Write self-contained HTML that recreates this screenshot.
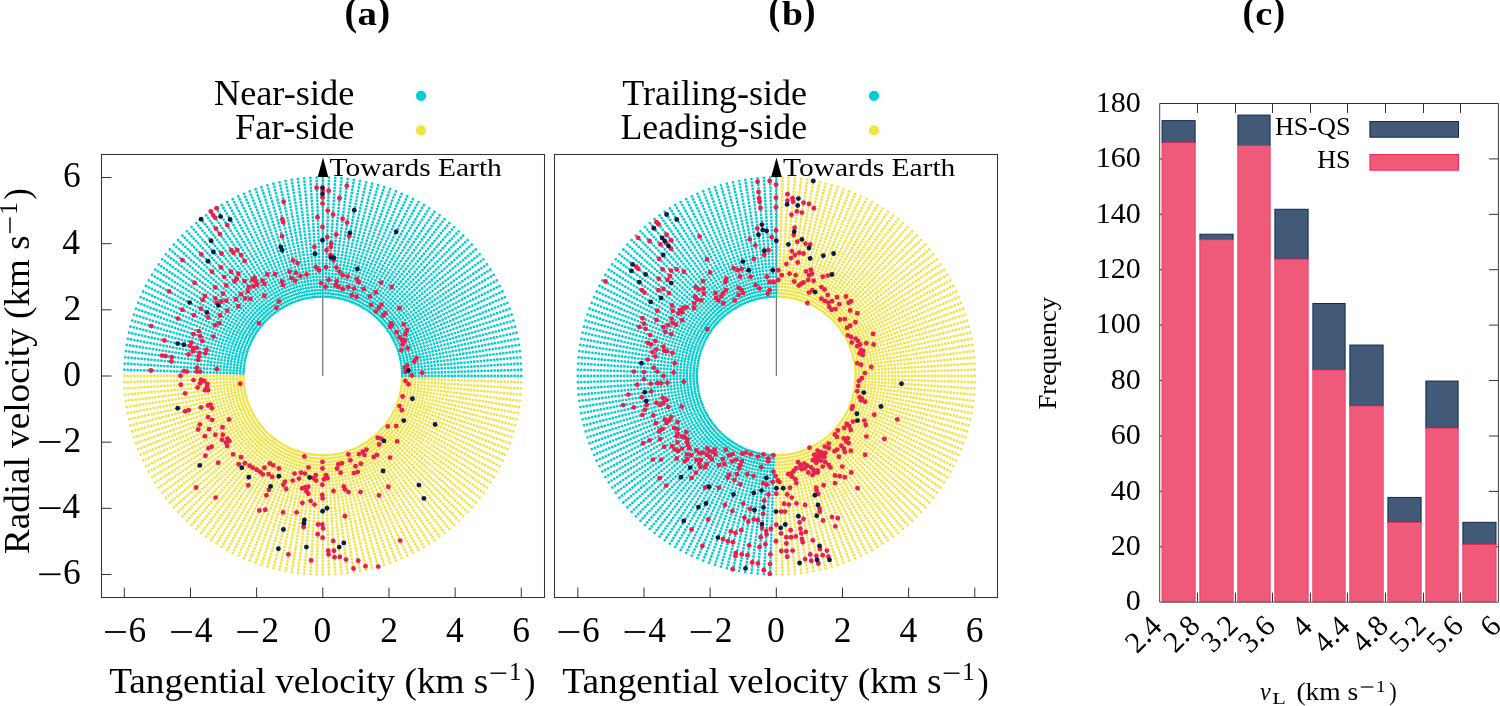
<!DOCTYPE html><html><head><meta charset="utf-8"><style>html,body{margin:0;padding:0;background:#fff;width:1500px;height:706px;overflow:hidden}svg{display:block;will-change:transform}</style></head><body>
<svg width="1500" height="706" viewBox="0 0 1500 706">
<text x="344.58" y="24.60" font-family="Liberation Serif" font-size="40.00" font-weight="bold" font-style="normal" fill="#000" textLength="12.68" lengthAdjust="spacingAndGlyphs">(</text>
<text x="357.53" y="24.96" font-family="Liberation Serif" font-size="33.75" font-weight="bold" font-style="normal" fill="#000" textLength="19.46" lengthAdjust="spacingAndGlyphs">a</text>
<text x="377.23" y="24.60" font-family="Liberation Serif" font-size="40.00" font-weight="bold" font-style="normal" fill="#000" textLength="12.94" lengthAdjust="spacingAndGlyphs">)</text>
<text x="768.58" y="24.40" font-family="Liberation Serif" font-size="40.00" font-weight="bold" font-style="normal" fill="#000" textLength="11.79" lengthAdjust="spacingAndGlyphs">(</text>
<text x="782.02" y="24.96" font-family="Liberation Serif" font-size="33.57" font-weight="bold" font-style="normal" fill="#000" textLength="20.94" lengthAdjust="spacingAndGlyphs">b</text>
<text x="803.29" y="24.40" font-family="Liberation Serif" font-size="40.00" font-weight="bold" font-style="normal" fill="#000" textLength="12.30" lengthAdjust="spacingAndGlyphs">)</text>
<text x="1242.42" y="24.60" font-family="Liberation Serif" font-size="40.00" font-weight="bold" font-style="normal" fill="#000" textLength="12.30" lengthAdjust="spacingAndGlyphs">(</text>
<text x="1255.15" y="24.97" font-family="Liberation Serif" font-size="32.71" font-weight="bold" font-style="normal" fill="#000" textLength="17.07" lengthAdjust="spacingAndGlyphs">c</text>
<text x="1273.10" y="24.60" font-family="Liberation Serif" font-size="40.00" font-weight="bold" font-style="normal" fill="#000" textLength="12.17" lengthAdjust="spacingAndGlyphs">)</text>
<text x="213.91" y="105.00" font-family="Liberation Serif" font-size="35.50" font-weight="normal" font-style="normal" fill="#000" textLength="140.42" lengthAdjust="spacingAndGlyphs">Near-side</text>
<text x="234.90" y="138.80" font-family="Liberation Serif" font-size="35.50" font-weight="normal" font-style="normal" fill="#000" textLength="119.45" lengthAdjust="spacingAndGlyphs">Far-side</text>
<text x="622.28" y="105.00" font-family="Liberation Serif" font-size="35.50" font-weight="normal" font-style="normal" fill="#000" textLength="184.80" lengthAdjust="spacingAndGlyphs">Trailing-side</text>
<text x="620.53" y="139.00" font-family="Liberation Serif" font-size="35.50" font-weight="normal" font-style="normal" fill="#000" textLength="186.56" lengthAdjust="spacingAndGlyphs">Leading-side</text>
<circle cx="421.0" cy="95.8" r="5.1" fill="#00CED1"/>
<circle cx="421.0" cy="130.4" r="5.1" fill="#F0E442"/>
<circle cx="874.0" cy="95.8" r="5.1" fill="#00CED1"/>
<circle cx="874.0" cy="130.4" r="5.1" fill="#F0E442"/>
<line x1="322.80" y1="376.0" x2="322.80" y2="176" stroke="#555" stroke-width="1"/>

<line x1="776.30" y1="376.0" x2="776.30" y2="176" stroke="#555" stroke-width="1"/>

<path d="M243.41 376.00L124.27 376.00M243.45 378.49L124.37 382.24M243.56 380.99L124.66 388.47M243.76 383.47L125.15 394.68M244.03 385.95L125.84 400.88M244.39 388.42L126.71 407.06M244.81 390.88L127.79 413.20M245.32 393.32L129.05 419.31M245.90 395.74L130.51 425.37M246.56 398.15L132.15 431.39M247.29 400.53L133.99 437.35M248.10 402.89L136.01 443.25M248.98 405.23L138.21 449.08M249.94 407.53L140.60 454.85M250.96 409.80L143.16 460.53M252.06 412.04L145.91 466.13M253.23 414.25L148.83 471.64M254.46 416.41L151.92 477.06M255.77 418.54L155.18 482.38M257.14 420.62L158.60 487.59M258.57 422.67L162.19 492.69M260.07 424.66L165.93 497.68M261.63 426.61L169.83 502.55M263.25 428.50L173.88 507.29M264.93 430.35L178.08 511.90M266.66 432.14L182.42 516.38M268.45 433.87L186.90 520.72M270.30 435.55L191.51 524.92M272.19 437.17L196.25 528.97M274.14 438.73L201.12 532.87M276.13 440.23L206.11 536.61M278.18 441.66L211.21 540.20M280.26 443.03L216.42 543.62M282.39 444.34L221.74 546.88M284.55 445.57L227.16 549.97M286.76 446.74L232.67 552.89M289.00 447.84L238.27 555.64M291.27 448.86L243.95 558.20M293.57 449.82L249.72 560.59M295.91 450.70L255.55 562.79M298.27 451.51L261.45 564.81M300.65 452.24L267.41 566.65M303.06 452.90L273.43 568.29M305.48 453.48L279.49 569.75M307.92 453.99L285.60 571.01M310.38 454.41L291.74 572.09M312.85 454.77L297.92 572.96M315.33 455.04L304.12 573.65M317.81 455.24L310.33 574.14M320.31 455.35L316.56 574.43M322.80 455.39L322.80 574.53M325.29 455.35L329.04 574.43M327.79 455.24L335.27 574.14M330.27 455.04L341.48 573.65M332.75 454.77L347.68 572.96M335.22 454.41L353.86 572.09M337.68 453.99L360.00 571.01M340.12 453.48L366.11 569.75M342.54 452.90L372.17 568.29M344.95 452.24L378.19 566.65M347.33 451.51L384.15 564.81M349.69 450.70L390.05 562.79M352.03 449.82L395.88 560.59M354.33 448.86L401.65 558.20M356.60 447.84L407.33 555.64M358.84 446.74L412.93 552.89M361.05 445.57L418.44 549.97M363.21 444.34L423.86 546.88M365.34 443.03L429.18 543.62M367.42 441.66L434.39 540.20M369.47 440.23L439.49 536.61M371.46 438.73L444.48 532.87M373.41 437.17L449.35 528.97M375.30 435.55L454.09 524.92M377.15 433.87L458.70 520.72M378.94 432.14L463.18 516.38M380.67 430.35L467.52 511.90M382.35 428.50L471.72 507.29M383.97 426.61L475.77 502.55M385.53 424.66L479.67 497.68M387.03 422.67L483.41 492.69M388.46 420.62L487.00 487.59M389.83 418.54L490.42 482.38M391.14 416.41L493.68 477.06M392.37 414.25L496.77 471.64M393.54 412.04L499.69 466.13M394.64 409.80L502.44 460.53M395.66 407.53L505.00 454.85M396.62 405.23L507.39 449.08M397.50 402.89L509.59 443.25M398.31 400.53L511.61 437.35M399.04 398.15L513.45 431.39M399.70 395.74L515.09 425.37M400.28 393.32L516.55 419.31M400.79 390.88L517.81 413.20M401.21 388.42L518.89 407.06M401.57 385.95L519.76 400.88M401.84 383.47L520.45 394.68M402.04 380.99L520.94 388.47M402.15 378.49L521.23 382.24" stroke="#F0E442" stroke-width="2.8" stroke-linecap="round" stroke-dasharray="0 3.3080" fill="none"/>
<path d="M402.19 376.00L521.33 376.00M402.15 373.51L521.23 369.76M402.04 371.01L520.94 363.53M401.84 368.53L520.45 357.32M401.57 366.05L519.76 351.12M401.21 363.58L518.89 344.94M400.79 361.12L517.81 338.80M400.28 358.68L516.55 332.69M399.70 356.26L515.09 326.63M399.04 353.85L513.45 320.61M398.31 351.47L511.61 314.65M397.50 349.11L509.59 308.75M396.62 346.77L507.39 302.92M395.66 344.47L505.00 297.15M394.64 342.20L502.44 291.47M393.54 339.96L499.69 285.87M392.37 337.75L496.77 280.36M391.14 335.59L493.68 274.94M389.83 333.46L490.42 269.62M388.46 331.38L487.00 264.41M387.03 329.33L483.41 259.31M385.53 327.34L479.67 254.32M383.97 325.39L475.77 249.45M382.35 323.50L471.72 244.71M380.67 321.65L467.52 240.10M378.94 319.86L463.18 235.62M377.15 318.13L458.70 231.28M375.30 316.45L454.09 227.08M373.41 314.83L449.35 223.03M371.46 313.27L444.48 219.13M369.47 311.77L439.49 215.39M367.42 310.34L434.39 211.80M365.34 308.97L429.18 208.38M363.21 307.66L423.86 205.12M361.05 306.43L418.44 202.03M358.84 305.26L412.93 199.11M356.60 304.16L407.33 196.36M354.33 303.14L401.65 193.80M352.03 302.18L395.88 191.41M349.69 301.30L390.05 189.21M347.33 300.49L384.15 187.19M344.95 299.76L378.19 185.35M342.54 299.10L372.17 183.71M340.12 298.52L366.11 182.25M337.68 298.01L360.00 180.99M335.22 297.59L353.86 179.91M332.75 297.23L347.68 179.04M330.27 296.96L341.48 178.35M327.79 296.76L335.27 177.86M325.29 296.65L329.04 177.57M322.80 296.61L322.80 177.47M320.31 296.65L316.56 177.57M317.81 296.76L310.33 177.86M315.33 296.96L304.12 178.35M312.85 297.23L297.92 179.04M310.38 297.59L291.74 179.91M307.92 298.01L285.60 180.99M305.48 298.52L279.49 182.25M303.06 299.10L273.43 183.71M300.65 299.76L267.41 185.35M298.27 300.49L261.45 187.19M295.91 301.30L255.55 189.21M293.57 302.18L249.72 191.41M291.27 303.14L243.95 193.80M289.00 304.16L238.27 196.36M286.76 305.26L232.67 199.11M284.55 306.43L227.16 202.03M282.39 307.66L221.74 205.12M280.26 308.97L216.42 208.38M278.18 310.34L211.21 211.80M276.13 311.77L206.11 215.39M274.14 313.27L201.12 219.13M272.19 314.83L196.25 223.03M270.30 316.45L191.51 227.08M268.45 318.13L186.90 231.28M266.66 319.86L182.42 235.62M264.93 321.65L178.08 240.10M263.25 323.50L173.88 244.71M261.63 325.39L169.83 249.45M260.07 327.34L165.93 254.32M258.57 329.33L162.19 259.31M257.14 331.38L158.60 264.41M255.77 333.46L155.18 269.62M254.46 335.59L151.92 274.94M253.23 337.75L148.83 280.36M252.06 339.96L145.91 285.87M250.96 342.20L143.16 291.47M249.94 344.47L140.60 297.15M248.98 346.77L138.21 302.92M248.10 349.11L136.01 308.75M247.29 351.47L133.99 314.65M246.56 353.85L132.15 320.61M245.90 356.26L130.51 326.63M245.32 358.68L129.05 332.69M244.81 361.12L127.79 338.80M244.39 363.58L126.71 344.94M244.03 366.05L125.84 351.12M243.76 368.53L125.15 357.32M243.56 371.01L124.66 363.53M243.45 373.51L124.37 369.76" stroke="#00CED1" stroke-width="2.8" stroke-linecap="round" stroke-dasharray="0 3.3080" fill="none"/>

<path d="M855.69 376.00L974.83 376.00M855.65 373.51L974.73 369.76M855.54 371.01L974.44 363.53M855.34 368.53L973.95 357.32M855.07 366.05L973.26 351.12M854.71 363.58L972.39 344.94M854.29 361.12L971.31 338.80M853.78 358.68L970.05 332.69M853.20 356.26L968.59 326.63M852.54 353.85L966.95 320.61M851.81 351.47L965.11 314.65M851.00 349.11L963.09 308.75M850.12 346.77L960.89 302.92M849.16 344.47L958.50 297.15M848.14 342.20L955.94 291.47M847.04 339.96L953.19 285.87M845.87 337.75L950.27 280.36M844.64 335.59L947.18 274.94M843.33 333.46L943.92 269.62M841.96 331.38L940.50 264.41M840.53 329.33L936.91 259.31M839.03 327.34L933.17 254.32M837.47 325.39L929.27 249.45M835.85 323.50L925.22 244.71M834.17 321.65L921.02 240.10M832.44 319.86L916.68 235.62M830.65 318.13L912.20 231.28M828.80 316.45L907.59 227.08M826.91 314.83L902.85 223.03M824.96 313.27L897.98 219.13M822.97 311.77L892.99 215.39M820.92 310.34L887.89 211.80M818.84 308.97L882.68 208.38M816.71 307.66L877.36 205.12M814.55 306.43L871.94 202.03M812.34 305.26L866.43 199.11M810.10 304.16L860.83 196.36M807.83 303.14L855.15 193.80M805.53 302.18L849.38 191.41M803.19 301.30L843.55 189.21M800.83 300.49L837.65 187.19M798.45 299.76L831.69 185.35M796.04 299.10L825.67 183.71M793.62 298.52L819.61 182.25M791.18 298.01L813.50 180.99M788.72 297.59L807.36 179.91M786.25 297.23L801.18 179.04M783.77 296.96L794.98 178.35M781.29 296.76L788.77 177.86M778.79 296.65L782.54 177.57M776.30 455.39L776.30 574.53M778.79 455.35L782.54 574.43M781.29 455.24L788.77 574.14M783.77 455.04L794.98 573.65M786.25 454.77L801.18 572.96M788.72 454.41L807.36 572.09M791.18 453.99L813.50 571.01M793.62 453.48L819.61 569.75M796.04 452.90L825.67 568.29M798.45 452.24L831.69 566.65M800.83 451.51L837.65 564.81M803.19 450.70L843.55 562.79M805.53 449.82L849.38 560.59M807.83 448.86L855.15 558.20M810.10 447.84L860.83 555.64M812.34 446.74L866.43 552.89M814.55 445.57L871.94 549.97M816.71 444.34L877.36 546.88M818.84 443.03L882.68 543.62M820.92 441.66L887.89 540.20M822.97 440.23L892.99 536.61M824.96 438.73L897.98 532.87M826.91 437.17L902.85 528.97M828.80 435.55L907.59 524.92M830.65 433.87L912.20 520.72M832.44 432.14L916.68 516.38M834.17 430.35L921.02 511.90M835.85 428.50L925.22 507.29M837.47 426.61L929.27 502.55M839.03 424.66L933.17 497.68M840.53 422.67L936.91 492.69M841.96 420.62L940.50 487.59M843.33 418.54L943.92 482.38M844.64 416.41L947.18 477.06M845.87 414.25L950.27 471.64M847.04 412.04L953.19 466.13M848.14 409.80L955.94 460.53M849.16 407.53L958.50 454.85M850.12 405.23L960.89 449.08M851.00 402.89L963.09 443.25M851.81 400.53L965.11 437.35M852.54 398.15L966.95 431.39M853.20 395.74L968.59 425.37M853.78 393.32L970.05 419.31M854.29 390.88L971.31 413.20M854.71 388.42L972.39 407.06M855.07 385.95L973.26 400.88M855.34 383.47L973.95 394.68M855.54 380.99L974.44 388.47M855.65 378.49L974.73 382.24" stroke="#F0E442" stroke-width="2.8" stroke-linecap="round" stroke-dasharray="0 3.3080" fill="none"/>
<path d="M776.30 296.61L776.30 177.47M773.81 296.65L770.06 177.57M771.31 296.76L763.83 177.86M768.83 296.96L757.62 178.35M766.35 297.23L751.42 179.04M763.88 297.59L745.24 179.91M761.42 298.01L739.10 180.99M758.98 298.52L732.99 182.25M756.56 299.10L726.93 183.71M754.15 299.76L720.91 185.35M751.77 300.49L714.95 187.19M749.41 301.30L709.05 189.21M747.07 302.18L703.22 191.41M744.77 303.14L697.45 193.80M742.50 304.16L691.77 196.36M740.26 305.26L686.17 199.11M738.05 306.43L680.66 202.03M735.89 307.66L675.24 205.12M733.76 308.97L669.92 208.38M731.68 310.34L664.71 211.80M729.63 311.77L659.61 215.39M727.64 313.27L654.62 219.13M725.69 314.83L649.75 223.03M723.80 316.45L645.01 227.08M721.95 318.13L640.40 231.28M720.16 319.86L635.92 235.62M718.43 321.65L631.58 240.10M716.75 323.50L627.38 244.71M715.13 325.39L623.33 249.45M713.57 327.34L619.43 254.32M712.07 329.33L615.69 259.31M710.64 331.38L612.10 264.41M709.27 333.46L608.68 269.62M707.96 335.59L605.42 274.94M706.73 337.75L602.33 280.36M705.56 339.96L599.41 285.87M704.46 342.20L596.66 291.47M703.44 344.47L594.10 297.15M702.48 346.77L591.71 302.92M701.60 349.11L589.51 308.75M700.79 351.47L587.49 314.65M700.06 353.85L585.65 320.61M699.40 356.26L584.01 326.63M698.82 358.68L582.55 332.69M698.31 361.12L581.29 338.80M697.89 363.58L580.21 344.94M697.53 366.05L579.34 351.12M697.26 368.53L578.65 357.32M697.06 371.01L578.16 363.53M696.95 373.51L577.87 369.76M696.91 376.00L577.77 376.00M696.95 378.49L577.87 382.24M697.06 380.99L578.16 388.47M697.26 383.47L578.65 394.68M697.53 385.95L579.34 400.88M697.89 388.42L580.21 407.06M698.31 390.88L581.29 413.20M698.82 393.32L582.55 419.31M699.40 395.74L584.01 425.37M700.06 398.15L585.65 431.39M700.79 400.53L587.49 437.35M701.60 402.89L589.51 443.25M702.48 405.23L591.71 449.08M703.44 407.53L594.10 454.85M704.46 409.80L596.66 460.53M705.56 412.04L599.41 466.13M706.73 414.25L602.33 471.64M707.96 416.41L605.42 477.06M709.27 418.54L608.68 482.38M710.64 420.62L612.10 487.59M712.07 422.67L615.69 492.69M713.57 424.66L619.43 497.68M715.13 426.61L623.33 502.55M716.75 428.50L627.38 507.29M718.43 430.35L631.58 511.90M720.16 432.14L635.92 516.38M721.95 433.87L640.40 520.72M723.80 435.55L645.01 524.92M725.69 437.17L649.75 528.97M727.64 438.73L654.62 532.87M729.63 440.23L659.61 536.61M731.68 441.66L664.71 540.20M733.76 443.03L669.92 543.62M735.89 444.34L675.24 546.88M738.05 445.57L680.66 549.97M740.26 446.74L686.17 552.89M742.50 447.84L691.77 555.64M744.77 448.86L697.45 558.20M747.07 449.82L703.22 560.59M749.41 450.70L709.05 562.79M751.77 451.51L714.95 564.81M754.15 452.24L720.91 566.65M756.56 452.90L726.93 568.29M758.98 453.48L732.99 569.75M761.42 453.99L739.10 571.01M763.88 454.41L745.24 572.09M766.35 454.77L751.42 572.96M768.83 455.04L757.62 573.65M771.31 455.24L763.83 574.14M773.81 455.35L770.06 574.43" stroke="#00CED1" stroke-width="2.8" stroke-linecap="round" stroke-dasharray="0 3.3080" fill="none"/>

<rect x="101.5" y="154.5" width="443.0" height="443.0" fill="none" stroke="#333" stroke-width="1.05"/>
<line x1="124.32" y1="597.5" x2="124.32" y2="587.5" stroke="#333" stroke-width="1"/>
<rect x="105.02" y="631.10" width="20.80" height="1.80" fill="#000"/><text x="128.52" y="641.60" font-family="Liberation Serif" font-size="35.50" fill="#000">6</text><line x1="101.5" y1="574.48" x2="111.5" y2="574.48" stroke="#333" stroke-width="1"/>
<rect x="39.20" y="573.38" width="21.30" height="1.80" fill="#000"/><text x="62.91" y="584.38" font-family="Liberation Serif" font-size="35.50" fill="#000">6</text><line x1="190.48" y1="597.5" x2="190.48" y2="587.5" stroke="#333" stroke-width="1"/>
<rect x="171.18" y="631.10" width="20.80" height="1.80" fill="#000"/><text x="194.68" y="641.60" font-family="Liberation Serif" font-size="35.50" fill="#000">4</text><line x1="101.5" y1="508.32" x2="111.5" y2="508.32" stroke="#333" stroke-width="1"/>
<rect x="39.20" y="507.22" width="21.30" height="1.80" fill="#000"/><text x="62.20" y="518.22" font-family="Liberation Serif" font-size="35.50" fill="#000">4</text><line x1="256.64" y1="597.5" x2="256.64" y2="587.5" stroke="#333" stroke-width="1"/>
<rect x="237.34" y="631.10" width="20.80" height="1.80" fill="#000"/><text x="261.19" y="641.60" font-family="Liberation Serif" font-size="35.50" fill="#000">2</text><line x1="101.5" y1="442.16" x2="111.5" y2="442.16" stroke="#333" stroke-width="1"/>
<rect x="39.20" y="441.06" width="21.30" height="1.80" fill="#000"/><text x="63.62" y="452.06" font-family="Liberation Serif" font-size="35.50" fill="#000">2</text><line x1="322.80" y1="597.5" x2="322.80" y2="587.5" stroke="#333" stroke-width="1"/>
<text x="313.62" y="641.60" font-family="Liberation Serif" font-size="35.50" fill="#000">0</text><line x1="101.5" y1="376.00" x2="111.5" y2="376.00" stroke="#333" stroke-width="1"/>
<text x="63.27" y="385.90" font-family="Liberation Serif" font-size="35.50" fill="#000">0</text><line x1="388.96" y1="597.5" x2="388.96" y2="587.5" stroke="#333" stroke-width="1"/>
<text x="380.26" y="641.60" font-family="Liberation Serif" font-size="35.50" fill="#000">2</text><line x1="101.5" y1="309.84" x2="111.5" y2="309.84" stroke="#333" stroke-width="1"/>
<text x="63.62" y="319.74" font-family="Liberation Serif" font-size="35.50" fill="#000">2</text><line x1="455.12" y1="597.5" x2="455.12" y2="587.5" stroke="#333" stroke-width="1"/>
<text x="446.07" y="641.60" font-family="Liberation Serif" font-size="35.50" fill="#000">4</text><line x1="101.5" y1="243.68" x2="111.5" y2="243.68" stroke="#333" stroke-width="1"/>
<text x="62.20" y="253.58" font-family="Liberation Serif" font-size="35.50" fill="#000">4</text><line x1="521.28" y1="597.5" x2="521.28" y2="587.5" stroke="#333" stroke-width="1"/>
<text x="512.23" y="641.60" font-family="Liberation Serif" font-size="35.50" fill="#000">6</text><line x1="101.5" y1="177.52" x2="111.5" y2="177.52" stroke="#333" stroke-width="1"/>
<text x="62.91" y="187.42" font-family="Liberation Serif" font-size="35.50" fill="#000">6</text>
<rect x="554.5" y="154.5" width="443.0" height="443.0" fill="none" stroke="#333" stroke-width="1.05"/>
<line x1="577.82" y1="597.5" x2="577.82" y2="587.5" stroke="#333" stroke-width="1"/>
<rect x="558.52" y="631.10" width="20.80" height="1.80" fill="#000"/><text x="582.02" y="641.60" font-family="Liberation Serif" font-size="35.50" fill="#000">6</text><line x1="643.98" y1="597.5" x2="643.98" y2="587.5" stroke="#333" stroke-width="1"/>
<rect x="624.68" y="631.10" width="20.80" height="1.80" fill="#000"/><text x="648.18" y="641.60" font-family="Liberation Serif" font-size="35.50" fill="#000">4</text><line x1="710.14" y1="597.5" x2="710.14" y2="587.5" stroke="#333" stroke-width="1"/>
<rect x="690.84" y="631.10" width="20.80" height="1.80" fill="#000"/><text x="714.69" y="641.60" font-family="Liberation Serif" font-size="35.50" fill="#000">2</text><line x1="776.30" y1="597.5" x2="776.30" y2="587.5" stroke="#333" stroke-width="1"/>
<text x="767.12" y="641.60" font-family="Liberation Serif" font-size="35.50" fill="#000">0</text><line x1="842.46" y1="597.5" x2="842.46" y2="587.5" stroke="#333" stroke-width="1"/>
<text x="833.76" y="641.60" font-family="Liberation Serif" font-size="35.50" fill="#000">2</text><line x1="908.62" y1="597.5" x2="908.62" y2="587.5" stroke="#333" stroke-width="1"/>
<text x="899.57" y="641.60" font-family="Liberation Serif" font-size="35.50" fill="#000">4</text><line x1="974.78" y1="597.5" x2="974.78" y2="587.5" stroke="#333" stroke-width="1"/>
<text x="965.73" y="641.60" font-family="Liberation Serif" font-size="35.50" fill="#000">6</text>
<path d="M323.00 157.4L317.70 176.9L328.30 176.9Z" fill="#000"/>
<text x="329.51" y="176.20" font-family="Liberation Serif" font-size="25.20" font-weight="normal" font-style="normal" fill="#000" textLength="172.33" lengthAdjust="spacingAndGlyphs">Towards Earth</text>

<path d="M776.50 157.4L771.20 176.9L781.80 176.9Z" fill="#000"/>
<text x="783.01" y="176.20" font-family="Liberation Serif" font-size="25.20" font-weight="normal" font-style="normal" fill="#000" textLength="172.33" lengthAdjust="spacingAndGlyphs">Towards Earth</text>

<circle cx="216.6" cy="208.3" r="2.45" fill="#E8204E"/><circle cx="210.8" cy="211.5" r="2.45" fill="#E8204E"/><circle cx="213.0" cy="215.1" r="2.45" fill="#E8204E"/><circle cx="215.0" cy="217.6" r="2.45" fill="#E8204E"/><circle cx="215.9" cy="228.6" r="2.45" fill="#E8204E"/><circle cx="219.9" cy="234.1" r="2.45" fill="#E8204E"/><circle cx="201.3" cy="254.4" r="2.45" fill="#E8204E"/><circle cx="182.5" cy="260.1" r="2.45" fill="#E8204E"/><circle cx="212.0" cy="271.7" r="2.45" fill="#E8204E"/><circle cx="227.2" cy="225.1" r="2.45" fill="#E8204E"/><circle cx="283.6" cy="201.7" r="2.45" fill="#E8204E"/><circle cx="282.3" cy="219.2" r="2.45" fill="#E8204E"/><circle cx="283.2" cy="222.3" r="2.45" fill="#E8204E"/><circle cx="282.0" cy="236.3" r="2.45" fill="#E8204E"/><circle cx="316.6" cy="187.7" r="2.45" fill="#E8204E"/><circle cx="322.5" cy="197.4" r="2.45" fill="#E8204E"/><circle cx="322.5" cy="203.6" r="2.45" fill="#E8204E"/><circle cx="317.5" cy="217.3" r="2.45" fill="#E8204E"/><circle cx="322.5" cy="227.0" r="2.45" fill="#E8204E"/><circle cx="314.4" cy="246.9" r="2.45" fill="#E8204E"/><circle cx="221.5" cy="253.5" r="2.45" fill="#E8204E"/><circle cx="231.4" cy="250.3" r="2.45" fill="#E8204E"/><circle cx="233.4" cy="252.7" r="2.45" fill="#E8204E"/><circle cx="237.3" cy="250.0" r="2.45" fill="#E8204E"/><circle cx="241.2" cy="255.3" r="2.45" fill="#E8204E"/><circle cx="244.6" cy="260.9" r="2.45" fill="#E8204E"/><circle cx="220.9" cy="267.5" r="2.45" fill="#E8204E"/><circle cx="231.0" cy="271.8" r="2.45" fill="#E8204E"/><circle cx="238.4" cy="273.7" r="2.45" fill="#E8204E"/><circle cx="224.3" cy="277.1" r="2.45" fill="#E8204E"/><circle cx="236.8" cy="278.7" r="2.45" fill="#E8204E"/><circle cx="234.5" cy="281.5" r="2.45" fill="#E8204E"/><circle cx="244.6" cy="281.2" r="2.45" fill="#E8204E"/><circle cx="254.7" cy="277.6" r="2.45" fill="#E8204E"/><circle cx="252.4" cy="280.0" r="2.45" fill="#E8204E"/><circle cx="255.8" cy="281.5" r="2.45" fill="#E8204E"/><circle cx="262.5" cy="280.7" r="2.45" fill="#E8204E"/><circle cx="267.2" cy="274.5" r="2.45" fill="#E8204E"/><circle cx="275.0" cy="274.2" r="2.45" fill="#E8204E"/><circle cx="282.0" cy="281.5" r="2.45" fill="#E8204E"/><circle cx="289.5" cy="271.8" r="2.45" fill="#E8204E"/><circle cx="293.2" cy="260.5" r="2.45" fill="#E8204E"/><circle cx="297.6" cy="263.1" r="2.45" fill="#E8204E"/><circle cx="296.0" cy="272.9" r="2.45" fill="#E8204E"/><circle cx="300.4" cy="276.1" r="2.45" fill="#E8204E"/><circle cx="291.3" cy="278.1" r="2.45" fill="#E8204E"/><circle cx="295.2" cy="280.7" r="2.45" fill="#E8204E"/><circle cx="306.6" cy="274.5" r="2.45" fill="#E8204E"/><circle cx="316.0" cy="267.2" r="2.45" fill="#E8204E"/><circle cx="319.1" cy="270.3" r="2.45" fill="#E8204E"/><circle cx="321.0" cy="283.1" r="2.45" fill="#E8204E"/><circle cx="346.8" cy="185.7" r="2.45" fill="#E8204E"/><circle cx="328.6" cy="190.8" r="2.45" fill="#E8204E"/><circle cx="339.5" cy="198.2" r="2.45" fill="#E8204E"/><circle cx="327.7" cy="210.6" r="2.45" fill="#E8204E"/><circle cx="333.1" cy="214.5" r="2.45" fill="#E8204E"/><circle cx="342.6" cy="218.7" r="2.45" fill="#E8204E"/><circle cx="347.1" cy="222.6" r="2.45" fill="#E8204E"/><circle cx="336.2" cy="234.5" r="2.45" fill="#E8204E"/><circle cx="327.3" cy="237.1" r="2.45" fill="#E8204E"/><circle cx="349.2" cy="236.3" r="2.45" fill="#E8204E"/><circle cx="331.2" cy="243.3" r="2.45" fill="#E8204E"/><circle cx="330.8" cy="246.9" r="2.45" fill="#E8204E"/><circle cx="326.6" cy="250.3" r="2.45" fill="#E8204E"/><circle cx="330.5" cy="255.0" r="2.45" fill="#E8204E"/><circle cx="333.6" cy="260.5" r="2.45" fill="#E8204E"/><circle cx="326.1" cy="267.2" r="2.45" fill="#E8204E"/><circle cx="336.4" cy="267.5" r="2.45" fill="#E8204E"/><circle cx="339.5" cy="271.8" r="2.45" fill="#E8204E"/><circle cx="342.6" cy="275.3" r="2.45" fill="#E8204E"/><circle cx="347.6" cy="276.5" r="2.45" fill="#E8204E"/><circle cx="328.6" cy="280.0" r="2.45" fill="#E8204E"/><circle cx="336.7" cy="281.2" r="2.45" fill="#E8204E"/><circle cx="357.0" cy="279.2" r="2.45" fill="#E8204E"/><circle cx="358.8" cy="282.3" r="2.45" fill="#E8204E"/><circle cx="381.1" cy="282.8" r="2.45" fill="#E8204E"/><circle cx="194.5" cy="282.8" r="2.45" fill="#E8204E"/><circle cx="215.4" cy="287.5" r="2.45" fill="#E8204E"/><circle cx="226.3" cy="285.5" r="2.45" fill="#E8204E"/><circle cx="169.1" cy="291.4" r="2.45" fill="#E8204E"/><circle cx="223.1" cy="293.7" r="2.45" fill="#E8204E"/><circle cx="204.9" cy="296.0" r="2.45" fill="#E8204E"/><circle cx="202.6" cy="299.9" r="2.45" fill="#E8204E"/><circle cx="215.4" cy="298.4" r="2.45" fill="#E8204E"/><circle cx="216.6" cy="303.1" r="2.45" fill="#E8204E"/><circle cx="221.3" cy="301.5" r="2.45" fill="#E8204E"/><circle cx="226.3" cy="300.7" r="2.45" fill="#E8204E"/><circle cx="227.2" cy="310.8" r="2.45" fill="#E8204E"/><circle cx="182.3" cy="309.8" r="2.45" fill="#E8204E"/><circle cx="201.0" cy="308.8" r="2.45" fill="#E8204E"/><circle cx="194.0" cy="315.2" r="2.45" fill="#E8204E"/><circle cx="208.0" cy="317.5" r="2.45" fill="#E8204E"/><circle cx="220.2" cy="315.5" r="2.45" fill="#E8204E"/><circle cx="178.0" cy="318.6" r="2.45" fill="#E8204E"/><circle cx="215.0" cy="325.3" r="2.45" fill="#E8204E"/><circle cx="219.4" cy="323.3" r="2.45" fill="#E8204E"/><circle cx="151.2" cy="326.1" r="2.45" fill="#E8204E"/><circle cx="198.7" cy="331.1" r="2.45" fill="#E8204E"/><circle cx="193.5" cy="334.2" r="2.45" fill="#E8204E"/><circle cx="200.2" cy="336.2" r="2.45" fill="#E8204E"/><circle cx="213.5" cy="336.6" r="2.45" fill="#E8204E"/><circle cx="202.3" cy="340.9" r="2.45" fill="#E8204E"/><circle cx="164.4" cy="340.5" r="2.45" fill="#E8204E"/><circle cx="191.4" cy="342.5" r="2.45" fill="#E8204E"/><circle cx="190.1" cy="345.9" r="2.45" fill="#E8204E"/><circle cx="193.2" cy="348.2" r="2.45" fill="#E8204E"/><circle cx="196.7" cy="347.8" r="2.45" fill="#E8204E"/><circle cx="192.9" cy="351.4" r="2.45" fill="#E8204E"/><circle cx="199.5" cy="352.9" r="2.45" fill="#E8204E"/><circle cx="206.5" cy="349.8" r="2.45" fill="#E8204E"/><circle cx="205.4" cy="353.4" r="2.45" fill="#E8204E"/><circle cx="188.6" cy="354.5" r="2.45" fill="#E8204E"/><circle cx="198.7" cy="356.5" r="2.45" fill="#E8204E"/><circle cx="162.1" cy="355.6" r="2.45" fill="#E8204E"/><circle cx="165.5" cy="356.0" r="2.45" fill="#E8204E"/><circle cx="171.7" cy="357.1" r="2.45" fill="#E8204E"/><circle cx="171.4" cy="361.5" r="2.45" fill="#E8204E"/><circle cx="198.2" cy="359.9" r="2.45" fill="#E8204E"/><circle cx="197.1" cy="367.7" r="2.45" fill="#E8204E"/><circle cx="200.2" cy="371.6" r="2.45" fill="#E8204E"/><circle cx="196.7" cy="371.6" r="2.45" fill="#E8204E"/><circle cx="183.9" cy="371.1" r="2.45" fill="#E8204E"/><circle cx="187.0" cy="371.6" r="2.45" fill="#E8204E"/><circle cx="216.9" cy="369.3" r="2.45" fill="#E8204E"/><circle cx="150.9" cy="370.5" r="2.45" fill="#E8204E"/><circle cx="180.5" cy="375.8" r="2.45" fill="#E8204E"/><circle cx="253.5" cy="286.4" r="2.45" fill="#E8204E"/><circle cx="257.1" cy="284.8" r="2.45" fill="#E8204E"/><circle cx="248.8" cy="287.0" r="2.45" fill="#E8204E"/><circle cx="248.0" cy="291.4" r="2.45" fill="#E8204E"/><circle cx="264.4" cy="283.9" r="2.45" fill="#E8204E"/><circle cx="283.1" cy="285.1" r="2.45" fill="#E8204E"/><circle cx="325.6" cy="286.7" r="2.45" fill="#E8204E"/><circle cx="241.0" cy="294.2" r="2.45" fill="#E8204E"/><circle cx="235.9" cy="299.2" r="2.45" fill="#E8204E"/><circle cx="245.2" cy="298.4" r="2.45" fill="#E8204E"/><circle cx="250.4" cy="298.9" r="2.45" fill="#E8204E"/><circle cx="264.4" cy="295.7" r="2.45" fill="#E8204E"/><circle cx="238.4" cy="306.2" r="2.45" fill="#E8204E"/><circle cx="278.9" cy="301.5" r="2.45" fill="#E8204E"/><circle cx="276.4" cy="307.7" r="2.45" fill="#E8204E"/><circle cx="259.0" cy="323.3" r="2.45" fill="#E8204E"/><circle cx="335.6" cy="285.1" r="2.45" fill="#E8204E"/><circle cx="338.4" cy="286.7" r="2.45" fill="#E8204E"/><circle cx="342.6" cy="289.0" r="2.45" fill="#E8204E"/><circle cx="348.4" cy="287.0" r="2.45" fill="#E8204E"/><circle cx="354.0" cy="288.6" r="2.45" fill="#E8204E"/><circle cx="363.6" cy="289.0" r="2.45" fill="#E8204E"/><circle cx="391.7" cy="287.0" r="2.45" fill="#E8204E"/><circle cx="375.8" cy="292.2" r="2.45" fill="#E8204E"/><circle cx="351.9" cy="295.3" r="2.45" fill="#E8204E"/><circle cx="356.6" cy="296.8" r="2.45" fill="#E8204E"/><circle cx="369.9" cy="296.4" r="2.45" fill="#E8204E"/><circle cx="371.1" cy="304.9" r="2.45" fill="#E8204E"/><circle cx="381.5" cy="304.6" r="2.45" fill="#E8204E"/><circle cx="378.9" cy="307.7" r="2.45" fill="#E8204E"/><circle cx="375.8" cy="311.6" r="2.45" fill="#E8204E"/><circle cx="385.4" cy="313.2" r="2.45" fill="#E8204E"/><circle cx="383.1" cy="315.5" r="2.45" fill="#E8204E"/><circle cx="399.5" cy="308.2" r="2.45" fill="#E8204E"/><circle cx="390.9" cy="323.3" r="2.45" fill="#E8204E"/><circle cx="390.1" cy="326.9" r="2.45" fill="#E8204E"/><circle cx="392.0" cy="325.3" r="2.45" fill="#E8204E"/><circle cx="403.8" cy="324.4" r="2.45" fill="#E8204E"/><circle cx="406.9" cy="330.0" r="2.45" fill="#E8204E"/><circle cx="405.4" cy="334.2" r="2.45" fill="#E8204E"/><circle cx="396.7" cy="332.2" r="2.45" fill="#E8204E"/><circle cx="399.5" cy="337.3" r="2.45" fill="#E8204E"/><circle cx="401.8" cy="339.7" r="2.45" fill="#E8204E"/><circle cx="404.9" cy="340.5" r="2.45" fill="#E8204E"/><circle cx="402.6" cy="344.3" r="2.45" fill="#E8204E"/><circle cx="407.7" cy="348.2" r="2.45" fill="#E8204E"/><circle cx="401.3" cy="350.3" r="2.45" fill="#E8204E"/><circle cx="416.6" cy="358.1" r="2.45" fill="#E8204E"/><circle cx="414.3" cy="361.5" r="2.45" fill="#E8204E"/><circle cx="404.9" cy="367.7" r="2.45" fill="#E8204E"/><circle cx="407.3" cy="365.4" r="2.45" fill="#E8204E"/><circle cx="405.4" cy="372.1" r="2.45" fill="#E8204E"/><circle cx="411.9" cy="375.5" r="2.45" fill="#E8204E"/><circle cx="422.1" cy="372.7" r="2.45" fill="#E8204E"/><circle cx="193.5" cy="380.1" r="2.45" fill="#E8204E"/><circle cx="201.0" cy="379.7" r="2.45" fill="#E8204E"/><circle cx="204.1" cy="380.9" r="2.45" fill="#E8204E"/><circle cx="200.2" cy="383.2" r="2.45" fill="#E8204E"/><circle cx="207.3" cy="384.0" r="2.45" fill="#E8204E"/><circle cx="180.8" cy="384.8" r="2.45" fill="#E8204E"/><circle cx="197.6" cy="387.5" r="2.45" fill="#E8204E"/><circle cx="206.9" cy="387.5" r="2.45" fill="#E8204E"/><circle cx="204.9" cy="390.3" r="2.45" fill="#E8204E"/><circle cx="208.0" cy="390.3" r="2.45" fill="#E8204E"/><circle cx="185.1" cy="393.4" r="2.45" fill="#E8204E"/><circle cx="201.0" cy="407.4" r="2.45" fill="#E8204E"/><circle cx="208.0" cy="405.5" r="2.45" fill="#E8204E"/><circle cx="210.4" cy="404.6" r="2.45" fill="#E8204E"/><circle cx="211.9" cy="408.2" r="2.45" fill="#E8204E"/><circle cx="185.1" cy="411.3" r="2.45" fill="#E8204E"/><circle cx="188.6" cy="410.2" r="2.45" fill="#E8204E"/><circle cx="208.0" cy="417.1" r="2.45" fill="#E8204E"/><circle cx="212.2" cy="419.9" r="2.45" fill="#E8204E"/><circle cx="229.1" cy="419.5" r="2.45" fill="#E8204E"/><circle cx="199.8" cy="424.5" r="2.45" fill="#E8204E"/><circle cx="198.2" cy="429.5" r="2.45" fill="#E8204E"/><circle cx="209.1" cy="429.2" r="2.45" fill="#E8204E"/><circle cx="222.5" cy="427.3" r="2.45" fill="#E8204E"/><circle cx="204.9" cy="436.2" r="2.45" fill="#E8204E"/><circle cx="215.4" cy="434.7" r="2.45" fill="#E8204E"/><circle cx="222.8" cy="434.7" r="2.45" fill="#E8204E"/><circle cx="222.1" cy="439.8" r="2.45" fill="#E8204E"/><circle cx="227.5" cy="438.6" r="2.45" fill="#E8204E"/><circle cx="227.2" cy="446.0" r="2.45" fill="#E8204E"/><circle cx="226.0" cy="442.5" r="2.45" fill="#E8204E"/><circle cx="208.5" cy="448.2" r="2.45" fill="#E8204E"/><circle cx="211.6" cy="446.7" r="2.45" fill="#E8204E"/><circle cx="205.4" cy="455.7" r="2.45" fill="#E8204E"/><circle cx="218.2" cy="462.7" r="2.45" fill="#E8204E"/><circle cx="240.3" cy="383.7" r="2.45" fill="#E8204E"/><circle cx="229.3" cy="440.9" r="2.45" fill="#E8204E"/><circle cx="233.2" cy="454.4" r="2.45" fill="#E8204E"/><circle cx="241.0" cy="457.3" r="2.45" fill="#E8204E"/><circle cx="238.7" cy="464.3" r="2.45" fill="#E8204E"/><circle cx="244.9" cy="463.2" r="2.45" fill="#E8204E"/><circle cx="249.6" cy="465.8" r="2.45" fill="#E8204E"/><circle cx="252.7" cy="467.8" r="2.45" fill="#E8204E"/><circle cx="256.6" cy="469.7" r="2.45" fill="#E8204E"/><circle cx="260.2" cy="472.1" r="2.45" fill="#E8204E"/><circle cx="264.4" cy="467.8" r="2.45" fill="#E8204E"/><circle cx="262.8" cy="474.4" r="2.45" fill="#E8204E"/><circle cx="269.9" cy="463.5" r="2.45" fill="#E8204E"/><circle cx="273.3" cy="465.4" r="2.45" fill="#E8204E"/><circle cx="278.9" cy="468.5" r="2.45" fill="#E8204E"/><circle cx="268.6" cy="474.1" r="2.45" fill="#E8204E"/><circle cx="272.2" cy="476.7" r="2.45" fill="#E8204E"/><circle cx="304.4" cy="456.5" r="2.45" fill="#E8204E"/><circle cx="308.5" cy="467.4" r="2.45" fill="#E8204E"/><circle cx="322.5" cy="461.9" r="2.45" fill="#E8204E"/><circle cx="322.5" cy="468.5" r="2.45" fill="#E8204E"/><circle cx="294.5" cy="473.6" r="2.45" fill="#E8204E"/><circle cx="301.0" cy="472.8" r="2.45" fill="#E8204E"/><circle cx="304.9" cy="473.6" r="2.45" fill="#E8204E"/><circle cx="315.8" cy="475.2" r="2.45" fill="#E8204E"/><circle cx="326.0" cy="475.2" r="2.45" fill="#E8204E"/><circle cx="313.5" cy="478.3" r="2.45" fill="#E8204E"/><circle cx="327.5" cy="478.3" r="2.45" fill="#E8204E"/><circle cx="405.4" cy="380.9" r="2.45" fill="#E8204E"/><circle cx="408.5" cy="384.3" r="2.45" fill="#E8204E"/><circle cx="402.6" cy="396.5" r="2.45" fill="#E8204E"/><circle cx="399.5" cy="406.1" r="2.45" fill="#E8204E"/><circle cx="401.8" cy="410.2" r="2.45" fill="#E8204E"/><circle cx="387.8" cy="426.4" r="2.45" fill="#E8204E"/><circle cx="396.3" cy="426.1" r="2.45" fill="#E8204E"/><circle cx="377.7" cy="437.8" r="2.45" fill="#E8204E"/><circle cx="381.1" cy="438.6" r="2.45" fill="#E8204E"/><circle cx="379.2" cy="444.5" r="2.45" fill="#E8204E"/><circle cx="397.1" cy="441.4" r="2.45" fill="#E8204E"/><circle cx="366.4" cy="449.8" r="2.45" fill="#E8204E"/><circle cx="362.8" cy="451.8" r="2.45" fill="#E8204E"/><circle cx="359.0" cy="454.1" r="2.45" fill="#E8204E"/><circle cx="364.4" cy="454.9" r="2.45" fill="#E8204E"/><circle cx="348.4" cy="454.4" r="2.45" fill="#E8204E"/><circle cx="376.9" cy="454.9" r="2.45" fill="#E8204E"/><circle cx="373.8" cy="456.9" r="2.45" fill="#E8204E"/><circle cx="390.1" cy="457.6" r="2.45" fill="#E8204E"/><circle cx="350.4" cy="460.4" r="2.45" fill="#E8204E"/><circle cx="360.8" cy="463.8" r="2.45" fill="#E8204E"/><circle cx="355.5" cy="466.3" r="2.45" fill="#E8204E"/><circle cx="341.8" cy="463.2" r="2.45" fill="#E8204E"/><circle cx="338.4" cy="464.3" r="2.45" fill="#E8204E"/><circle cx="337.1" cy="468.5" r="2.45" fill="#E8204E"/><circle cx="340.6" cy="472.8" r="2.45" fill="#E8204E"/><circle cx="354.0" cy="473.1" r="2.45" fill="#E8204E"/><circle cx="357.7" cy="472.1" r="2.45" fill="#E8204E"/><circle cx="196.1" cy="487.5" r="2.45" fill="#E8204E"/><circle cx="215.6" cy="497.6" r="2.45" fill="#E8204E"/><circle cx="248.3" cy="485.3" r="2.45" fill="#E8204E"/><circle cx="266.4" cy="495.2" r="2.45" fill="#E8204E"/><circle cx="259.4" cy="510.5" r="2.45" fill="#E8204E"/><circle cx="265.2" cy="509.7" r="2.45" fill="#E8204E"/><circle cx="323.9" cy="479.3" r="2.45" fill="#E8204E"/><circle cx="322.3" cy="484.8" r="2.45" fill="#E8204E"/><circle cx="299.0" cy="478.6" r="2.45" fill="#E8204E"/><circle cx="292.7" cy="480.6" r="2.45" fill="#E8204E"/><circle cx="316.1" cy="480.6" r="2.45" fill="#E8204E"/><circle cx="284.9" cy="481.7" r="2.45" fill="#E8204E"/><circle cx="283.4" cy="484.8" r="2.45" fill="#E8204E"/><circle cx="286.2" cy="489.0" r="2.45" fill="#E8204E"/><circle cx="302.1" cy="488.4" r="2.45" fill="#E8204E"/><circle cx="305.2" cy="487.1" r="2.45" fill="#E8204E"/><circle cx="308.3" cy="486.8" r="2.45" fill="#E8204E"/><circle cx="306.4" cy="491.0" r="2.45" fill="#E8204E"/><circle cx="308.3" cy="493.7" r="2.45" fill="#E8204E"/><circle cx="322.3" cy="494.9" r="2.45" fill="#E8204E"/><circle cx="322.6" cy="498.4" r="2.45" fill="#E8204E"/><circle cx="333.5" cy="491.0" r="2.45" fill="#E8204E"/><circle cx="343.8" cy="486.4" r="2.45" fill="#E8204E"/><circle cx="344.9" cy="489.5" r="2.45" fill="#E8204E"/><circle cx="348.5" cy="492.1" r="2.45" fill="#E8204E"/><circle cx="360.5" cy="492.1" r="2.45" fill="#E8204E"/><circle cx="302.4" cy="503.0" r="2.45" fill="#E8204E"/><circle cx="310.6" cy="500.9" r="2.45" fill="#E8204E"/><circle cx="314.5" cy="504.6" r="2.45" fill="#E8204E"/><circle cx="283.1" cy="512.4" r="2.45" fill="#E8204E"/><circle cx="296.6" cy="512.4" r="2.45" fill="#E8204E"/><circle cx="344.9" cy="516.3" r="2.45" fill="#E8204E"/><circle cx="318.0" cy="524.5" r="2.45" fill="#E8204E"/><circle cx="322.3" cy="524.5" r="2.45" fill="#E8204E"/><circle cx="323.1" cy="528.4" r="2.45" fill="#E8204E"/><circle cx="303.6" cy="526.9" r="2.45" fill="#E8204E"/><circle cx="317.7" cy="534.2" r="2.45" fill="#E8204E"/><circle cx="322.6" cy="537.8" r="2.45" fill="#E8204E"/><circle cx="333.2" cy="540.9" r="2.45" fill="#E8204E"/><circle cx="328.2" cy="550.7" r="2.45" fill="#E8204E"/><circle cx="328.6" cy="554.4" r="2.45" fill="#E8204E"/><circle cx="334.0" cy="550.7" r="2.45" fill="#E8204E"/><circle cx="334.5" cy="557.3" r="2.45" fill="#E8204E"/><circle cx="339.8" cy="556.9" r="2.45" fill="#E8204E"/><circle cx="346.0" cy="559.6" r="2.45" fill="#E8204E"/><circle cx="288.4" cy="554.4" r="2.45" fill="#E8204E"/><circle cx="311.1" cy="560.4" r="2.45" fill="#E8204E"/><circle cx="358.2" cy="560.7" r="2.45" fill="#E8204E"/><circle cx="353.5" cy="568.5" r="2.45" fill="#E8204E"/><circle cx="365.5" cy="566.3" r="2.45" fill="#E8204E"/><circle cx="388.4" cy="486.8" r="2.45" fill="#E8204E"/><circle cx="379.0" cy="495.4" r="2.45" fill="#E8204E"/><circle cx="400.2" cy="540.6" r="2.45" fill="#E8204E"/><circle cx="378.2" cy="566.6" r="2.45" fill="#E8204E"/><circle cx="322.7" cy="190.8" r="2.45" fill="#E8204E"/><circle cx="268.9" cy="489.9" r="2.45" fill="#E8204E"/>

<circle cx="201.1" cy="219.2" r="2.45" fill="#0A1E46"/><circle cx="220.6" cy="216.6" r="2.45" fill="#0A1E46"/><circle cx="211.1" cy="240.8" r="2.45" fill="#0A1E46"/><circle cx="213.4" cy="252.0" r="2.45" fill="#0A1E46"/><circle cx="208.0" cy="261.3" r="2.45" fill="#0A1E46"/><circle cx="322.5" cy="187.7" r="2.45" fill="#0A1E46"/><circle cx="322.5" cy="193.9" r="2.45" fill="#0A1E46"/><circle cx="230.1" cy="219.5" r="2.45" fill="#0A1E46"/><circle cx="280.8" cy="246.9" r="2.45" fill="#0A1E46"/><circle cx="282.0" cy="250.3" r="2.45" fill="#0A1E46"/><circle cx="322.5" cy="240.2" r="2.45" fill="#0A1E46"/><circle cx="315.0" cy="253.8" r="2.45" fill="#0A1E46"/><circle cx="354.3" cy="210.3" r="2.45" fill="#0A1E46"/><circle cx="349.9" cy="232.9" r="2.45" fill="#0A1E46"/><circle cx="396.2" cy="231.7" r="2.45" fill="#0A1E46"/><circle cx="330.8" cy="257.4" r="2.45" fill="#0A1E46"/><circle cx="333.9" cy="257.7" r="2.45" fill="#0A1E46"/><circle cx="357.4" cy="269.0" r="2.45" fill="#0A1E46"/><circle cx="189.6" cy="302.6" r="2.45" fill="#0A1E46"/><circle cx="206.9" cy="312.4" r="2.45" fill="#0A1E46"/><circle cx="218.5" cy="305.4" r="2.45" fill="#0A1E46"/><circle cx="177.7" cy="343.6" r="2.45" fill="#0A1E46"/><circle cx="183.9" cy="344.7" r="2.45" fill="#0A1E46"/><circle cx="408.5" cy="370.5" r="2.45" fill="#0A1E46"/><circle cx="177.7" cy="408.2" r="2.45" fill="#0A1E46"/><circle cx="199.8" cy="465.4" r="2.45" fill="#0A1E46"/><circle cx="241.8" cy="467.8" r="2.45" fill="#0A1E46"/><circle cx="248.8" cy="477.2" r="2.45" fill="#0A1E46"/><circle cx="278.9" cy="476.3" r="2.45" fill="#0A1E46"/><circle cx="309.6" cy="477.5" r="2.45" fill="#0A1E46"/><circle cx="412.4" cy="398.8" r="2.45" fill="#0A1E46"/><circle cx="403.8" cy="420.6" r="2.45" fill="#0A1E46"/><circle cx="383.9" cy="440.9" r="2.45" fill="#0A1E46"/><circle cx="383.1" cy="471.0" r="2.45" fill="#0A1E46"/><circle cx="435.1" cy="424.5" r="2.45" fill="#0A1E46"/><circle cx="270.6" cy="486.4" r="2.45" fill="#0A1E46"/><circle cx="327.0" cy="508.2" r="2.45" fill="#0A1E46"/><circle cx="322.6" cy="511.3" r="2.45" fill="#0A1E46"/><circle cx="304.4" cy="519.9" r="2.45" fill="#0A1E46"/><circle cx="303.9" cy="523.3" r="2.45" fill="#0A1E46"/><circle cx="283.4" cy="529.5" r="2.45" fill="#0A1E46"/><circle cx="278.4" cy="548.7" r="2.45" fill="#0A1E46"/><circle cx="306.4" cy="547.1" r="2.45" fill="#0A1E46"/><circle cx="339.2" cy="547.1" r="2.45" fill="#0A1E46"/><circle cx="343.8" cy="542.9" r="2.45" fill="#0A1E46"/><circle cx="418.9" cy="485.1" r="2.45" fill="#0A1E46"/><circle cx="423.9" cy="498.4" r="2.45" fill="#0A1E46"/>

<circle cx="656.5" cy="222.3" r="2.45" fill="#E8204E"/><circle cx="658.5" cy="224.2" r="2.45" fill="#E8204E"/><circle cx="638.2" cy="237.9" r="2.45" fill="#E8204E"/><circle cx="649.5" cy="241.0" r="2.45" fill="#E8204E"/><circle cx="666.6" cy="234.8" r="2.45" fill="#E8204E"/><circle cx="671.0" cy="240.2" r="2.45" fill="#E8204E"/><circle cx="660.4" cy="244.4" r="2.45" fill="#E8204E"/><circle cx="666.3" cy="243.3" r="2.45" fill="#E8204E"/><circle cx="671.0" cy="248.8" r="2.45" fill="#E8204E"/><circle cx="659.1" cy="258.9" r="2.45" fill="#E8204E"/><circle cx="636.2" cy="266.7" r="2.45" fill="#E8204E"/><circle cx="638.2" cy="268.7" r="2.45" fill="#E8204E"/><circle cx="662.7" cy="269.4" r="2.45" fill="#E8204E"/><circle cx="671.0" cy="270.6" r="2.45" fill="#E8204E"/><circle cx="676.7" cy="269.4" r="2.45" fill="#E8204E"/><circle cx="670.0" cy="276.1" r="2.45" fill="#E8204E"/><circle cx="658.8" cy="278.7" r="2.45" fill="#E8204E"/><circle cx="667.4" cy="280.0" r="2.45" fill="#E8204E"/><circle cx="605.5" cy="281.5" r="2.45" fill="#E8204E"/><circle cx="757.6" cy="181.8" r="2.45" fill="#E8204E"/><circle cx="769.7" cy="181.0" r="2.45" fill="#E8204E"/><circle cx="776.0" cy="184.6" r="2.45" fill="#E8204E"/><circle cx="758.5" cy="191.9" r="2.45" fill="#E8204E"/><circle cx="759.1" cy="198.2" r="2.45" fill="#E8204E"/><circle cx="759.6" cy="201.7" r="2.45" fill="#E8204E"/><circle cx="760.4" cy="208.0" r="2.45" fill="#E8204E"/><circle cx="776.0" cy="197.7" r="2.45" fill="#E8204E"/><circle cx="776.0" cy="207.2" r="2.45" fill="#E8204E"/><circle cx="757.3" cy="228.5" r="2.45" fill="#E8204E"/><circle cx="776.0" cy="230.4" r="2.45" fill="#E8204E"/><circle cx="771.6" cy="237.1" r="2.45" fill="#E8204E"/><circle cx="749.8" cy="239.4" r="2.45" fill="#E8204E"/><circle cx="755.4" cy="245.4" r="2.45" fill="#E8204E"/><circle cx="768.5" cy="250.3" r="2.45" fill="#E8204E"/><circle cx="764.3" cy="254.7" r="2.45" fill="#E8204E"/><circle cx="699.6" cy="236.6" r="2.45" fill="#E8204E"/><circle cx="707.1" cy="259.4" r="2.45" fill="#E8204E"/><circle cx="753.8" cy="258.9" r="2.45" fill="#E8204E"/><circle cx="684.0" cy="271.8" r="2.45" fill="#E8204E"/><circle cx="710.2" cy="272.5" r="2.45" fill="#E8204E"/><circle cx="733.6" cy="268.3" r="2.45" fill="#E8204E"/><circle cx="737.8" cy="270.3" r="2.45" fill="#E8204E"/><circle cx="741.7" cy="269.0" r="2.45" fill="#E8204E"/><circle cx="740.1" cy="276.5" r="2.45" fill="#E8204E"/><circle cx="750.7" cy="276.8" r="2.45" fill="#E8204E"/><circle cx="766.9" cy="276.8" r="2.45" fill="#E8204E"/><circle cx="778.3" cy="270.3" r="2.45" fill="#E8204E"/><circle cx="778.3" cy="280.0" r="2.45" fill="#E8204E"/><circle cx="703.0" cy="281.2" r="2.45" fill="#E8204E"/><circle cx="726.4" cy="278.7" r="2.45" fill="#E8204E"/><circle cx="725.3" cy="282.3" r="2.45" fill="#E8204E"/><circle cx="769.7" cy="282.3" r="2.45" fill="#E8204E"/><circle cx="773.6" cy="282.3" r="2.45" fill="#E8204E"/><circle cx="787.5" cy="194.3" r="2.45" fill="#E8204E"/><circle cx="792.6" cy="198.2" r="2.45" fill="#E8204E"/><circle cx="787.5" cy="200.8" r="2.45" fill="#E8204E"/><circle cx="793.1" cy="201.7" r="2.45" fill="#E8204E"/><circle cx="803.5" cy="202.8" r="2.45" fill="#E8204E"/><circle cx="809.0" cy="203.9" r="2.45" fill="#E8204E"/><circle cx="813.9" cy="208.3" r="2.45" fill="#E8204E"/><circle cx="796.8" cy="211.4" r="2.45" fill="#E8204E"/><circle cx="801.9" cy="212.6" r="2.45" fill="#E8204E"/><circle cx="791.5" cy="214.8" r="2.45" fill="#E8204E"/><circle cx="794.6" cy="227.8" r="2.45" fill="#E8204E"/><circle cx="793.7" cy="235.1" r="2.45" fill="#E8204E"/><circle cx="797.3" cy="241.8" r="2.45" fill="#E8204E"/><circle cx="805.5" cy="243.8" r="2.45" fill="#E8204E"/><circle cx="810.2" cy="244.4" r="2.45" fill="#E8204E"/><circle cx="791.8" cy="251.1" r="2.45" fill="#E8204E"/><circle cx="794.9" cy="255.0" r="2.45" fill="#E8204E"/><circle cx="799.3" cy="252.7" r="2.45" fill="#E8204E"/><circle cx="803.5" cy="253.5" r="2.45" fill="#E8204E"/><circle cx="791.0" cy="258.1" r="2.45" fill="#E8204E"/><circle cx="797.7" cy="262.5" r="2.45" fill="#E8204E"/><circle cx="786.4" cy="264.1" r="2.45" fill="#E8204E"/><circle cx="781.7" cy="275.3" r="2.45" fill="#E8204E"/><circle cx="789.5" cy="273.7" r="2.45" fill="#E8204E"/><circle cx="795.7" cy="275.3" r="2.45" fill="#E8204E"/><circle cx="806.1" cy="271.4" r="2.45" fill="#E8204E"/><circle cx="810.8" cy="269.8" r="2.45" fill="#E8204E"/><circle cx="809.0" cy="275.3" r="2.45" fill="#E8204E"/><circle cx="812.1" cy="273.7" r="2.45" fill="#E8204E"/><circle cx="808.2" cy="280.0" r="2.45" fill="#E8204E"/><circle cx="813.6" cy="280.7" r="2.45" fill="#E8204E"/><circle cx="794.2" cy="281.5" r="2.45" fill="#E8204E"/><circle cx="822.7" cy="276.8" r="2.45" fill="#E8204E"/><circle cx="827.7" cy="275.6" r="2.45" fill="#E8204E"/><circle cx="642.0" cy="290.3" r="2.45" fill="#E8204E"/><circle cx="644.5" cy="292.6" r="2.45" fill="#E8204E"/><circle cx="658.5" cy="290.3" r="2.45" fill="#E8204E"/><circle cx="663.5" cy="289.0" r="2.45" fill="#E8204E"/><circle cx="668.9" cy="293.1" r="2.45" fill="#E8204E"/><circle cx="672.1" cy="305.5" r="2.45" fill="#E8204E"/><circle cx="672.8" cy="310.8" r="2.45" fill="#E8204E"/><circle cx="678.3" cy="313.6" r="2.45" fill="#E8204E"/><circle cx="657.3" cy="310.8" r="2.45" fill="#E8204E"/><circle cx="642.5" cy="318.3" r="2.45" fill="#E8204E"/><circle cx="656.5" cy="319.9" r="2.45" fill="#E8204E"/><circle cx="644.0" cy="323.8" r="2.45" fill="#E8204E"/><circle cx="639.3" cy="326.9" r="2.45" fill="#E8204E"/><circle cx="645.6" cy="328.9" r="2.45" fill="#E8204E"/><circle cx="671.6" cy="318.6" r="2.45" fill="#E8204E"/><circle cx="668.2" cy="325.3" r="2.45" fill="#E8204E"/><circle cx="672.8" cy="323.0" r="2.45" fill="#E8204E"/><circle cx="676.0" cy="324.8" r="2.45" fill="#E8204E"/><circle cx="663.5" cy="327.3" r="2.45" fill="#E8204E"/><circle cx="665.4" cy="332.0" r="2.45" fill="#E8204E"/><circle cx="671.3" cy="334.2" r="2.45" fill="#E8204E"/><circle cx="650.2" cy="335.1" r="2.45" fill="#E8204E"/><circle cx="655.4" cy="340.9" r="2.45" fill="#E8204E"/><circle cx="647.9" cy="342.9" r="2.45" fill="#E8204E"/><circle cx="651.0" cy="344.5" r="2.45" fill="#E8204E"/><circle cx="656.5" cy="349.5" r="2.45" fill="#E8204E"/><circle cx="663.5" cy="346.7" r="2.45" fill="#E8204E"/><circle cx="664.3" cy="350.7" r="2.45" fill="#E8204E"/><circle cx="666.9" cy="351.3" r="2.45" fill="#E8204E"/><circle cx="652.6" cy="352.3" r="2.45" fill="#E8204E"/><circle cx="655.4" cy="356.5" r="2.45" fill="#E8204E"/><circle cx="672.5" cy="352.9" r="2.45" fill="#E8204E"/><circle cx="647.9" cy="359.6" r="2.45" fill="#E8204E"/><circle cx="674.7" cy="363.2" r="2.45" fill="#E8204E"/><circle cx="653.8" cy="367.8" r="2.45" fill="#E8204E"/><circle cx="657.3" cy="371.6" r="2.45" fill="#E8204E"/><circle cx="633.9" cy="371.6" r="2.45" fill="#E8204E"/><circle cx="644.0" cy="372.1" r="2.45" fill="#E8204E"/><circle cx="673.6" cy="372.5" r="2.45" fill="#E8204E"/><circle cx="663.5" cy="376.0" r="2.45" fill="#E8204E"/><circle cx="644.0" cy="379.1" r="2.45" fill="#E8204E"/><circle cx="769.7" cy="290.3" r="2.45" fill="#E8204E"/><circle cx="767.8" cy="293.7" r="2.45" fill="#E8204E"/><circle cx="755.7" cy="285.3" r="2.45" fill="#E8204E"/><circle cx="759.6" cy="288.4" r="2.45" fill="#E8204E"/><circle cx="738.6" cy="287.9" r="2.45" fill="#E8204E"/><circle cx="741.7" cy="289.9" r="2.45" fill="#E8204E"/><circle cx="743.2" cy="293.1" r="2.45" fill="#E8204E"/><circle cx="738.6" cy="294.9" r="2.45" fill="#E8204E"/><circle cx="734.7" cy="300.4" r="2.45" fill="#E8204E"/><circle cx="725.8" cy="290.3" r="2.45" fill="#E8204E"/><circle cx="723.0" cy="293.1" r="2.45" fill="#E8204E"/><circle cx="721.4" cy="296.5" r="2.45" fill="#E8204E"/><circle cx="715.5" cy="293.1" r="2.45" fill="#E8204E"/><circle cx="716.0" cy="298.0" r="2.45" fill="#E8204E"/><circle cx="718.3" cy="300.4" r="2.45" fill="#E8204E"/><circle cx="723.3" cy="303.5" r="2.45" fill="#E8204E"/><circle cx="695.7" cy="287.1" r="2.45" fill="#E8204E"/><circle cx="698.8" cy="289.5" r="2.45" fill="#E8204E"/><circle cx="703.5" cy="288.7" r="2.45" fill="#E8204E"/><circle cx="704.0" cy="293.7" r="2.45" fill="#E8204E"/><circle cx="695.2" cy="296.8" r="2.45" fill="#E8204E"/><circle cx="697.3" cy="299.6" r="2.45" fill="#E8204E"/><circle cx="701.2" cy="300.4" r="2.45" fill="#E8204E"/><circle cx="694.2" cy="303.5" r="2.45" fill="#E8204E"/><circle cx="694.2" cy="308.2" r="2.45" fill="#E8204E"/><circle cx="680.1" cy="310.2" r="2.45" fill="#E8204E"/><circle cx="683.2" cy="307.7" r="2.45" fill="#E8204E"/><circle cx="686.8" cy="307.4" r="2.45" fill="#E8204E"/><circle cx="682.5" cy="312.4" r="2.45" fill="#E8204E"/><circle cx="682.2" cy="320.2" r="2.45" fill="#E8204E"/><circle cx="707.4" cy="329.2" r="2.45" fill="#E8204E"/><circle cx="798.8" cy="285.6" r="2.45" fill="#E8204E"/><circle cx="801.2" cy="283.7" r="2.45" fill="#E8204E"/><circle cx="803.5" cy="282.5" r="2.45" fill="#E8204E"/><circle cx="809.0" cy="292.6" r="2.45" fill="#E8204E"/><circle cx="812.4" cy="290.3" r="2.45" fill="#E8204E"/><circle cx="807.4" cy="303.0" r="2.45" fill="#E8204E"/><circle cx="821.4" cy="287.1" r="2.45" fill="#E8204E"/><circle cx="824.5" cy="289.5" r="2.45" fill="#E8204E"/><circle cx="827.7" cy="294.9" r="2.45" fill="#E8204E"/><circle cx="821.4" cy="298.8" r="2.45" fill="#E8204E"/><circle cx="824.8" cy="300.9" r="2.45" fill="#E8204E"/><circle cx="828.4" cy="302.7" r="2.45" fill="#E8204E"/><circle cx="832.0" cy="301.2" r="2.45" fill="#E8204E"/><circle cx="829.2" cy="307.1" r="2.45" fill="#E8204E"/><circle cx="831.5" cy="309.7" r="2.45" fill="#E8204E"/><circle cx="835.4" cy="309.0" r="2.45" fill="#E8204E"/><circle cx="837.0" cy="297.3" r="2.45" fill="#E8204E"/><circle cx="839.3" cy="304.3" r="2.45" fill="#E8204E"/><circle cx="846.0" cy="296.5" r="2.45" fill="#E8204E"/><circle cx="848.7" cy="302.7" r="2.45" fill="#E8204E"/><circle cx="851.0" cy="301.2" r="2.45" fill="#E8204E"/><circle cx="850.2" cy="310.5" r="2.45" fill="#E8204E"/><circle cx="857.3" cy="313.3" r="2.45" fill="#E8204E"/><circle cx="840.1" cy="319.5" r="2.45" fill="#E8204E"/><circle cx="844.8" cy="319.1" r="2.45" fill="#E8204E"/><circle cx="855.4" cy="322.2" r="2.45" fill="#E8204E"/><circle cx="847.1" cy="327.7" r="2.45" fill="#E8204E"/><circle cx="850.2" cy="325.8" r="2.45" fill="#E8204E"/><circle cx="847.9" cy="335.4" r="2.45" fill="#E8204E"/><circle cx="851.0" cy="337.0" r="2.45" fill="#E8204E"/><circle cx="851.8" cy="342.5" r="2.45" fill="#E8204E"/><circle cx="855.7" cy="338.6" r="2.45" fill="#E8204E"/><circle cx="858.0" cy="340.9" r="2.45" fill="#E8204E"/><circle cx="857.3" cy="346.3" r="2.45" fill="#E8204E"/><circle cx="860.1" cy="344.5" r="2.45" fill="#E8204E"/><circle cx="861.1" cy="350.2" r="2.45" fill="#E8204E"/><circle cx="862.7" cy="354.9" r="2.45" fill="#E8204E"/><circle cx="863.2" cy="351.0" r="2.45" fill="#E8204E"/><circle cx="859.6" cy="353.4" r="2.45" fill="#E8204E"/><circle cx="866.3" cy="343.2" r="2.45" fill="#E8204E"/><circle cx="873.1" cy="333.9" r="2.45" fill="#E8204E"/><circle cx="873.6" cy="344.5" r="2.45" fill="#E8204E"/><circle cx="857.3" cy="363.2" r="2.45" fill="#E8204E"/><circle cx="861.1" cy="364.7" r="2.45" fill="#E8204E"/><circle cx="871.3" cy="366.9" r="2.45" fill="#E8204E"/><circle cx="865.0" cy="373.1" r="2.45" fill="#E8204E"/><circle cx="861.9" cy="378.3" r="2.45" fill="#E8204E"/><circle cx="637.3" cy="384.8" r="2.45" fill="#E8204E"/><circle cx="650.7" cy="383.7" r="2.45" fill="#E8204E"/><circle cx="657.3" cy="383.2" r="2.45" fill="#E8204E"/><circle cx="661.1" cy="383.2" r="2.45" fill="#E8204E"/><circle cx="667.4" cy="382.8" r="2.45" fill="#E8204E"/><circle cx="651.3" cy="391.5" r="2.45" fill="#E8204E"/><circle cx="628.4" cy="394.6" r="2.45" fill="#E8204E"/><circle cx="642.0" cy="397.3" r="2.45" fill="#E8204E"/><circle cx="662.7" cy="397.7" r="2.45" fill="#E8204E"/><circle cx="666.6" cy="399.9" r="2.45" fill="#E8204E"/><circle cx="656.5" cy="402.7" r="2.45" fill="#E8204E"/><circle cx="660.4" cy="405.1" r="2.45" fill="#E8204E"/><circle cx="663.5" cy="402.7" r="2.45" fill="#E8204E"/><circle cx="668.2" cy="407.1" r="2.45" fill="#E8204E"/><circle cx="623.3" cy="405.1" r="2.45" fill="#E8204E"/><circle cx="633.9" cy="407.4" r="2.45" fill="#E8204E"/><circle cx="646.7" cy="405.1" r="2.45" fill="#E8204E"/><circle cx="644.8" cy="409.7" r="2.45" fill="#E8204E"/><circle cx="642.5" cy="414.9" r="2.45" fill="#E8204E"/><circle cx="653.4" cy="415.5" r="2.45" fill="#E8204E"/><circle cx="665.0" cy="419.5" r="2.45" fill="#E8204E"/><circle cx="671.3" cy="417.1" r="2.45" fill="#E8204E"/><circle cx="666.6" cy="423.0" r="2.45" fill="#E8204E"/><circle cx="669.4" cy="420.2" r="2.45" fill="#E8204E"/><circle cx="656.0" cy="423.3" r="2.45" fill="#E8204E"/><circle cx="677.5" cy="422.2" r="2.45" fill="#E8204E"/><circle cx="674.1" cy="428.0" r="2.45" fill="#E8204E"/><circle cx="677.5" cy="429.2" r="2.45" fill="#E8204E"/><circle cx="660.4" cy="430.0" r="2.45" fill="#E8204E"/><circle cx="659.1" cy="431.5" r="2.45" fill="#E8204E"/><circle cx="662.7" cy="428.9" r="2.45" fill="#E8204E"/><circle cx="677.5" cy="433.9" r="2.45" fill="#E8204E"/><circle cx="660.1" cy="439.3" r="2.45" fill="#E8204E"/><circle cx="643.2" cy="443.2" r="2.45" fill="#E8204E"/><circle cx="649.5" cy="440.4" r="2.45" fill="#E8204E"/><circle cx="664.3" cy="446.7" r="2.45" fill="#E8204E"/><circle cx="677.5" cy="442.5" r="2.45" fill="#E8204E"/><circle cx="672.1" cy="446.3" r="2.45" fill="#E8204E"/><circle cx="674.7" cy="449.5" r="2.45" fill="#E8204E"/><circle cx="678.3" cy="451.0" r="2.45" fill="#E8204E"/><circle cx="676.7" cy="458.5" r="2.45" fill="#E8204E"/><circle cx="652.9" cy="459.6" r="2.45" fill="#E8204E"/><circle cx="661.1" cy="459.6" r="2.45" fill="#E8204E"/><circle cx="659.6" cy="478.3" r="2.45" fill="#E8204E"/><circle cx="683.7" cy="381.7" r="2.45" fill="#E8204E"/><circle cx="681.7" cy="406.6" r="2.45" fill="#E8204E"/><circle cx="686.4" cy="432.3" r="2.45" fill="#E8204E"/><circle cx="682.1" cy="448.6" r="2.45" fill="#E8204E"/><circle cx="686.9" cy="442.3" r="2.45" fill="#E8204E"/><circle cx="688.0" cy="445.3" r="2.45" fill="#E8204E"/><circle cx="689.4" cy="448.2" r="2.45" fill="#E8204E"/><circle cx="687.6" cy="439.4" r="2.45" fill="#E8204E"/><circle cx="681.7" cy="436.5" r="2.45" fill="#E8204E"/><circle cx="676.6" cy="436.1" r="2.45" fill="#E8204E"/><circle cx="684.7" cy="437.2" r="2.45" fill="#E8204E"/><circle cx="686.9" cy="454.4" r="2.45" fill="#E8204E"/><circle cx="691.3" cy="455.2" r="2.45" fill="#E8204E"/><circle cx="684.7" cy="461.4" r="2.45" fill="#E8204E"/><circle cx="687.2" cy="459.2" r="2.45" fill="#E8204E"/><circle cx="696.4" cy="450.4" r="2.45" fill="#E8204E"/><circle cx="699.3" cy="453.3" r="2.45" fill="#E8204E"/><circle cx="696.4" cy="459.9" r="2.45" fill="#E8204E"/><circle cx="700.8" cy="459.9" r="2.45" fill="#E8204E"/><circle cx="699.3" cy="463.6" r="2.45" fill="#E8204E"/><circle cx="700.4" cy="467.3" r="2.45" fill="#E8204E"/><circle cx="705.2" cy="467.3" r="2.45" fill="#E8204E"/><circle cx="706.7" cy="464.3" r="2.45" fill="#E8204E"/><circle cx="703.0" cy="452.6" r="2.45" fill="#E8204E"/><circle cx="707.4" cy="448.2" r="2.45" fill="#E8204E"/><circle cx="709.6" cy="451.1" r="2.45" fill="#E8204E"/><circle cx="706.7" cy="454.8" r="2.45" fill="#E8204E"/><circle cx="709.6" cy="457.0" r="2.45" fill="#E8204E"/><circle cx="711.8" cy="459.6" r="2.45" fill="#E8204E"/><circle cx="714.7" cy="449.7" r="2.45" fill="#E8204E"/><circle cx="715.5" cy="454.4" r="2.45" fill="#E8204E"/><circle cx="713.3" cy="451.9" r="2.45" fill="#E8204E"/><circle cx="696.0" cy="472.8" r="2.45" fill="#E8204E"/><circle cx="691.6" cy="477.9" r="2.45" fill="#E8204E"/><circle cx="725.7" cy="449.7" r="2.45" fill="#E8204E"/><circle cx="729.0" cy="455.5" r="2.45" fill="#E8204E"/><circle cx="732.7" cy="454.1" r="2.45" fill="#E8204E"/><circle cx="722.8" cy="459.2" r="2.45" fill="#E8204E"/><circle cx="724.3" cy="464.3" r="2.45" fill="#E8204E"/><circle cx="719.1" cy="465.1" r="2.45" fill="#E8204E"/><circle cx="732.3" cy="461.4" r="2.45" fill="#E8204E"/><circle cx="736.4" cy="459.6" r="2.45" fill="#E8204E"/><circle cx="741.9" cy="461.4" r="2.45" fill="#E8204E"/><circle cx="740.4" cy="465.1" r="2.45" fill="#E8204E"/><circle cx="739.3" cy="468.4" r="2.45" fill="#E8204E"/><circle cx="742.2" cy="453.7" r="2.45" fill="#E8204E"/><circle cx="745.9" cy="452.6" r="2.45" fill="#E8204E"/><circle cx="750.7" cy="454.4" r="2.45" fill="#E8204E"/><circle cx="758.0" cy="456.6" r="2.45" fill="#E8204E"/><circle cx="763.5" cy="454.4" r="2.45" fill="#E8204E"/><circle cx="768.3" cy="458.5" r="2.45" fill="#E8204E"/><circle cx="768.3" cy="461.4" r="2.45" fill="#E8204E"/><circle cx="773.4" cy="455.2" r="2.45" fill="#E8204E"/><circle cx="761.3" cy="467.3" r="2.45" fill="#E8204E"/><circle cx="729.4" cy="474.6" r="2.45" fill="#E8204E"/><circle cx="727.9" cy="477.5" r="2.45" fill="#E8204E"/><circle cx="737.1" cy="474.2" r="2.45" fill="#E8204E"/><circle cx="734.5" cy="480.1" r="2.45" fill="#E8204E"/><circle cx="747.4" cy="474.2" r="2.45" fill="#E8204E"/><circle cx="753.6" cy="476.1" r="2.45" fill="#E8204E"/><circle cx="773.4" cy="471.7" r="2.45" fill="#E8204E"/><circle cx="775.6" cy="476.1" r="2.45" fill="#E8204E"/><circle cx="772.7" cy="481.9" r="2.45" fill="#E8204E"/><circle cx="777.8" cy="480.5" r="2.45" fill="#E8204E"/><circle cx="763.1" cy="483.4" r="2.45" fill="#E8204E"/><circle cx="740.4" cy="484.5" r="2.45" fill="#E8204E"/><circle cx="858.9" cy="380.9" r="2.45" fill="#E8204E"/><circle cx="858.2" cy="385.9" r="2.45" fill="#E8204E"/><circle cx="857.2" cy="391.3" r="2.45" fill="#E8204E"/><circle cx="859.7" cy="397.3" r="2.45" fill="#E8204E"/><circle cx="862.1" cy="398.8" r="2.45" fill="#E8204E"/><circle cx="865.1" cy="401.7" r="2.45" fill="#E8204E"/><circle cx="861.1" cy="400.2" r="2.45" fill="#E8204E"/><circle cx="852.7" cy="406.2" r="2.45" fill="#E8204E"/><circle cx="851.9" cy="408.7" r="2.45" fill="#E8204E"/><circle cx="874.3" cy="414.8" r="2.45" fill="#E8204E"/><circle cx="852.9" cy="421.6" r="2.45" fill="#E8204E"/><circle cx="864.4" cy="420.6" r="2.45" fill="#E8204E"/><circle cx="865.8" cy="425.0" r="2.45" fill="#E8204E"/><circle cx="846.8" cy="424.0" r="2.45" fill="#E8204E"/><circle cx="849.2" cy="426.0" r="2.45" fill="#E8204E"/><circle cx="844.3" cy="428.0" r="2.45" fill="#E8204E"/><circle cx="850.7" cy="430.0" r="2.45" fill="#E8204E"/><circle cx="837.8" cy="430.5" r="2.45" fill="#E8204E"/><circle cx="834.9" cy="434.4" r="2.45" fill="#E8204E"/><circle cx="836.9" cy="436.9" r="2.45" fill="#E8204E"/><circle cx="843.8" cy="438.4" r="2.45" fill="#E8204E"/><circle cx="847.8" cy="438.4" r="2.45" fill="#E8204E"/><circle cx="866.4" cy="436.6" r="2.45" fill="#E8204E"/><circle cx="884.4" cy="438.9" r="2.45" fill="#E8204E"/><circle cx="848.6" cy="443.2" r="2.45" fill="#E8204E"/><circle cx="846.1" cy="441.5" r="2.45" fill="#E8204E"/><circle cx="841.4" cy="445.7" r="2.45" fill="#E8204E"/><circle cx="844.0" cy="448.7" r="2.45" fill="#E8204E"/><circle cx="844.8" cy="452.1" r="2.45" fill="#E8204E"/><circle cx="850.8" cy="450.8" r="2.45" fill="#E8204E"/><circle cx="837.2" cy="449.6" r="2.45" fill="#E8204E"/><circle cx="834.6" cy="451.3" r="2.45" fill="#E8204E"/><circle cx="838.9" cy="456.8" r="2.45" fill="#E8204E"/><circle cx="865.2" cy="454.7" r="2.45" fill="#E8204E"/><circle cx="828.7" cy="443.6" r="2.45" fill="#E8204E"/><circle cx="824.8" cy="446.6" r="2.45" fill="#E8204E"/><circle cx="828.7" cy="448.3" r="2.45" fill="#E8204E"/><circle cx="817.6" cy="450.8" r="2.45" fill="#E8204E"/><circle cx="821.0" cy="452.1" r="2.45" fill="#E8204E"/><circle cx="825.3" cy="453.0" r="2.45" fill="#E8204E"/><circle cx="814.2" cy="454.7" r="2.45" fill="#E8204E"/><circle cx="815.9" cy="458.1" r="2.45" fill="#E8204E"/><circle cx="820.2" cy="456.4" r="2.45" fill="#E8204E"/><circle cx="824.4" cy="457.2" r="2.45" fill="#E8204E"/><circle cx="812.9" cy="460.2" r="2.45" fill="#E8204E"/><circle cx="816.3" cy="462.7" r="2.45" fill="#E8204E"/><circle cx="821.0" cy="460.6" r="2.45" fill="#E8204E"/><circle cx="825.3" cy="462.3" r="2.45" fill="#E8204E"/><circle cx="822.7" cy="466.6" r="2.45" fill="#E8204E"/><circle cx="828.7" cy="464.9" r="2.45" fill="#E8204E"/><circle cx="830.4" cy="467.4" r="2.45" fill="#E8204E"/><circle cx="809.5" cy="447.7" r="2.45" fill="#E8204E"/><circle cx="798.1" cy="462.3" r="2.45" fill="#E8204E"/><circle cx="800.6" cy="464.9" r="2.45" fill="#E8204E"/><circle cx="804.4" cy="463.6" r="2.45" fill="#E8204E"/><circle cx="807.4" cy="465.7" r="2.45" fill="#E8204E"/><circle cx="811.2" cy="467.4" r="2.45" fill="#E8204E"/><circle cx="813.4" cy="470.0" r="2.45" fill="#E8204E"/><circle cx="817.6" cy="472.5" r="2.45" fill="#E8204E"/><circle cx="812.5" cy="475.1" r="2.45" fill="#E8204E"/><circle cx="808.3" cy="472.5" r="2.45" fill="#E8204E"/><circle cx="804.9" cy="468.3" r="2.45" fill="#E8204E"/><circle cx="801.5" cy="469.1" r="2.45" fill="#E8204E"/><circle cx="796.4" cy="468.3" r="2.45" fill="#E8204E"/><circle cx="793.8" cy="470.8" r="2.45" fill="#E8204E"/><circle cx="791.3" cy="473.4" r="2.45" fill="#E8204E"/><circle cx="788.3" cy="474.2" r="2.45" fill="#E8204E"/><circle cx="792.1" cy="476.8" r="2.45" fill="#E8204E"/><circle cx="795.5" cy="479.3" r="2.45" fill="#E8204E"/><circle cx="796.4" cy="483.1" r="2.45" fill="#E8204E"/><circle cx="842.3" cy="466.6" r="2.45" fill="#E8204E"/><circle cx="851.2" cy="472.5" r="2.45" fill="#E8204E"/><circle cx="835.0" cy="475.5" r="2.45" fill="#E8204E"/><circle cx="839.7" cy="476.3" r="2.45" fill="#E8204E"/><circle cx="844.8" cy="477.2" r="2.45" fill="#E8204E"/><circle cx="835.0" cy="483.1" r="2.45" fill="#E8204E"/><circle cx="823.6" cy="485.3" r="2.45" fill="#E8204E"/><circle cx="816.3" cy="487.8" r="2.45" fill="#E8204E"/><circle cx="857.6" cy="488.2" r="2.45" fill="#E8204E"/><circle cx="779.4" cy="481.9" r="2.45" fill="#E8204E"/><circle cx="790.0" cy="487.8" r="2.45" fill="#E8204E"/><circle cx="897.3" cy="419.5" r="2.45" fill="#E8204E"/><circle cx="666.2" cy="485.6" r="2.45" fill="#E8204E"/><circle cx="705.2" cy="487.5" r="2.45" fill="#E8204E"/><circle cx="708.3" cy="519.5" r="2.45" fill="#E8204E"/><circle cx="691.6" cy="529.5" r="2.45" fill="#E8204E"/><circle cx="702.4" cy="545.9" r="2.45" fill="#E8204E"/><circle cx="719.0" cy="487.8" r="2.45" fill="#E8204E"/><circle cx="766.6" cy="484.7" r="2.45" fill="#E8204E"/><circle cx="768.5" cy="494.5" r="2.45" fill="#E8204E"/><circle cx="764.2" cy="500.7" r="2.45" fill="#E8204E"/><circle cx="776.3" cy="493.7" r="2.45" fill="#E8204E"/><circle cx="787.2" cy="494.5" r="2.45" fill="#E8204E"/><circle cx="784.1" cy="503.8" r="2.45" fill="#E8204E"/><circle cx="788.8" cy="504.6" r="2.45" fill="#E8204E"/><circle cx="724.9" cy="504.9" r="2.45" fill="#E8204E"/><circle cx="743.3" cy="503.8" r="2.45" fill="#E8204E"/><circle cx="732.4" cy="511.1" r="2.45" fill="#E8204E"/><circle cx="750.1" cy="508.9" r="2.45" fill="#E8204E"/><circle cx="763.1" cy="513.9" r="2.45" fill="#E8204E"/><circle cx="781.0" cy="511.6" r="2.45" fill="#E8204E"/><circle cx="784.9" cy="511.6" r="2.45" fill="#E8204E"/><circle cx="744.4" cy="517.8" r="2.45" fill="#E8204E"/><circle cx="748.3" cy="521.7" r="2.45" fill="#E8204E"/><circle cx="753.7" cy="519.4" r="2.45" fill="#E8204E"/><circle cx="757.9" cy="520.2" r="2.45" fill="#E8204E"/><circle cx="776.3" cy="524.8" r="2.45" fill="#E8204E"/><circle cx="762.0" cy="527.9" r="2.45" fill="#E8204E"/><circle cx="766.2" cy="531.1" r="2.45" fill="#E8204E"/><circle cx="766.6" cy="534.5" r="2.45" fill="#E8204E"/><circle cx="770.9" cy="528.7" r="2.45" fill="#E8204E"/><circle cx="781.0" cy="533.4" r="2.45" fill="#E8204E"/><circle cx="730.8" cy="531.4" r="2.45" fill="#E8204E"/><circle cx="735.5" cy="532.9" r="2.45" fill="#E8204E"/><circle cx="741.3" cy="530.3" r="2.45" fill="#E8204E"/><circle cx="723.0" cy="539.2" r="2.45" fill="#E8204E"/><circle cx="728.0" cy="541.2" r="2.45" fill="#E8204E"/><circle cx="733.0" cy="542.3" r="2.45" fill="#E8204E"/><circle cx="760.7" cy="537.3" r="2.45" fill="#E8204E"/><circle cx="786.4" cy="537.3" r="2.45" fill="#E8204E"/><circle cx="776.0" cy="541.2" r="2.45" fill="#E8204E"/><circle cx="765.4" cy="544.3" r="2.45" fill="#E8204E"/><circle cx="749.1" cy="545.4" r="2.45" fill="#E8204E"/><circle cx="759.5" cy="546.9" r="2.45" fill="#E8204E"/><circle cx="786.4" cy="543.5" r="2.45" fill="#E8204E"/><circle cx="781.3" cy="551.0" r="2.45" fill="#E8204E"/><circle cx="786.4" cy="551.0" r="2.45" fill="#E8204E"/><circle cx="735.8" cy="552.9" r="2.45" fill="#E8204E"/><circle cx="735.5" cy="556.0" r="2.45" fill="#E8204E"/><circle cx="741.7" cy="554.4" r="2.45" fill="#E8204E"/><circle cx="747.5" cy="555.2" r="2.45" fill="#E8204E"/><circle cx="770.4" cy="554.4" r="2.45" fill="#E8204E"/><circle cx="787.2" cy="556.8" r="2.45" fill="#E8204E"/><circle cx="752.2" cy="562.5" r="2.45" fill="#E8204E"/><circle cx="757.9" cy="563.4" r="2.45" fill="#E8204E"/><circle cx="770.1" cy="564.1" r="2.45" fill="#E8204E"/><circle cx="732.7" cy="569.2" r="2.45" fill="#E8204E"/><circle cx="763.8" cy="570.3" r="2.45" fill="#E8204E"/><circle cx="769.8" cy="573.9" r="2.45" fill="#E8204E"/><circle cx="791.8" cy="497.6" r="2.45" fill="#E8204E"/><circle cx="816.7" cy="490.6" r="2.45" fill="#E8204E"/><circle cx="818.3" cy="494.0" r="2.45" fill="#E8204E"/><circle cx="796.5" cy="503.4" r="2.45" fill="#E8204E"/><circle cx="805.1" cy="504.9" r="2.45" fill="#E8204E"/><circle cx="819.5" cy="508.5" r="2.45" fill="#E8204E"/><circle cx="819.9" cy="511.6" r="2.45" fill="#E8204E"/><circle cx="803.5" cy="518.9" r="2.45" fill="#E8204E"/><circle cx="799.6" cy="522.5" r="2.45" fill="#E8204E"/><circle cx="823.0" cy="520.5" r="2.45" fill="#E8204E"/><circle cx="832.0" cy="517.1" r="2.45" fill="#E8204E"/><circle cx="837.8" cy="518.3" r="2.45" fill="#E8204E"/><circle cx="835.4" cy="526.4" r="2.45" fill="#E8204E"/><circle cx="790.6" cy="530.3" r="2.45" fill="#E8204E"/><circle cx="800.4" cy="528.8" r="2.45" fill="#E8204E"/><circle cx="801.2" cy="533.4" r="2.45" fill="#E8204E"/><circle cx="805.8" cy="531.9" r="2.45" fill="#E8204E"/><circle cx="791.0" cy="537.3" r="2.45" fill="#E8204E"/><circle cx="795.7" cy="536.5" r="2.45" fill="#E8204E"/><circle cx="801.9" cy="538.9" r="2.45" fill="#E8204E"/><circle cx="802.7" cy="542.3" r="2.45" fill="#E8204E"/><circle cx="812.8" cy="540.4" r="2.45" fill="#E8204E"/><circle cx="792.6" cy="550.6" r="2.45" fill="#E8204E"/><circle cx="819.9" cy="549.0" r="2.45" fill="#E8204E"/><circle cx="826.9" cy="550.6" r="2.45" fill="#E8204E"/><circle cx="810.2" cy="554.5" r="2.45" fill="#E8204E"/><circle cx="816.4" cy="556.0" r="2.45" fill="#E8204E"/><circle cx="822.7" cy="555.2" r="2.45" fill="#E8204E"/><circle cx="828.4" cy="556.8" r="2.45" fill="#E8204E"/><circle cx="805.1" cy="559.1" r="2.45" fill="#E8204E"/><circle cx="811.3" cy="560.7" r="2.45" fill="#E8204E"/><circle cx="818.3" cy="563.5" r="2.45" fill="#E8204E"/><circle cx="818.3" cy="454.9" r="2.45" fill="#E8204E"/><circle cx="823.2" cy="454.9" r="2.45" fill="#E8204E"/><circle cx="817.6" cy="460.5" r="2.45" fill="#E8204E"/><circle cx="814.7" cy="472.6" r="2.45" fill="#E8204E"/><circle cx="817.6" cy="470.5" r="2.45" fill="#E8204E"/><circle cx="800.9" cy="466.9" r="2.45" fill="#E8204E"/>

<circle cx="666.6" cy="214.5" r="2.45" fill="#0A1E46"/><circle cx="676.7" cy="219.5" r="2.45" fill="#0A1E46"/><circle cx="653.8" cy="228.2" r="2.45" fill="#0A1E46"/><circle cx="662.2" cy="237.9" r="2.45" fill="#0A1E46"/><circle cx="664.7" cy="241.0" r="2.45" fill="#0A1E46"/><circle cx="668.5" cy="246.0" r="2.45" fill="#0A1E46"/><circle cx="663.2" cy="255.0" r="2.45" fill="#0A1E46"/><circle cx="632.6" cy="264.4" r="2.45" fill="#0A1E46"/><circle cx="631.5" cy="270.9" r="2.45" fill="#0A1E46"/><circle cx="645.6" cy="274.5" r="2.45" fill="#0A1E46"/><circle cx="639.3" cy="282.3" r="2.45" fill="#0A1E46"/><circle cx="671.3" cy="283.1" r="2.45" fill="#0A1E46"/><circle cx="761.9" cy="224.6" r="2.45" fill="#0A1E46"/><circle cx="762.7" cy="230.1" r="2.45" fill="#0A1E46"/><circle cx="766.6" cy="230.9" r="2.45" fill="#0A1E46"/><circle cx="758.5" cy="234.8" r="2.45" fill="#0A1E46"/><circle cx="776.3" cy="240.7" r="2.45" fill="#0A1E46"/><circle cx="764.3" cy="250.7" r="2.45" fill="#0A1E46"/><circle cx="742.9" cy="261.6" r="2.45" fill="#0A1E46"/><circle cx="748.7" cy="270.3" r="2.45" fill="#0A1E46"/><circle cx="772.8" cy="270.3" r="2.45" fill="#0A1E46"/><circle cx="813.3" cy="181.0" r="2.45" fill="#0A1E46"/><circle cx="798.4" cy="198.6" r="2.45" fill="#0A1E46"/><circle cx="787.1" cy="204.4" r="2.45" fill="#0A1E46"/><circle cx="797.7" cy="205.5" r="2.45" fill="#0A1E46"/><circle cx="794.2" cy="231.7" r="2.45" fill="#0A1E46"/><circle cx="801.9" cy="239.4" r="2.45" fill="#0A1E46"/><circle cx="788.4" cy="244.4" r="2.45" fill="#0A1E46"/><circle cx="809.0" cy="248.0" r="2.45" fill="#0A1E46"/><circle cx="810.2" cy="258.4" r="2.45" fill="#0A1E46"/><circle cx="823.3" cy="255.8" r="2.45" fill="#0A1E46"/><circle cx="833.6" cy="253.5" r="2.45" fill="#0A1E46"/><circle cx="832.0" cy="274.5" r="2.45" fill="#0A1E46"/><circle cx="650.7" cy="301.9" r="2.45" fill="#0A1E46"/><circle cx="661.1" cy="298.0" r="2.45" fill="#0A1E46"/><circle cx="641.4" cy="363.2" r="2.45" fill="#0A1E46"/><circle cx="815.2" cy="292.1" r="2.45" fill="#0A1E46"/><circle cx="644.8" cy="392.3" r="2.45" fill="#0A1E46"/><circle cx="646.3" cy="400.9" r="2.45" fill="#0A1E46"/><circle cx="690.2" cy="467.6" r="2.45" fill="#0A1E46"/><circle cx="681.0" cy="477.2" r="2.45" fill="#0A1E46"/><circle cx="766.4" cy="477.9" r="2.45" fill="#0A1E46"/><circle cx="863.8" cy="392.6" r="2.45" fill="#0A1E46"/><circle cx="881.0" cy="406.5" r="2.45" fill="#0A1E46"/><circle cx="856.9" cy="413.8" r="2.45" fill="#0A1E46"/><circle cx="857.5" cy="420.6" r="2.45" fill="#0A1E46"/><circle cx="776.4" cy="488.2" r="2.45" fill="#0A1E46"/><circle cx="783.2" cy="488.2" r="2.45" fill="#0A1E46"/><circle cx="901.5" cy="383.7" r="2.45" fill="#0A1E46"/><circle cx="709.1" cy="486.8" r="2.45" fill="#0A1E46"/><circle cx="706.0" cy="503.5" r="2.45" fill="#0A1E46"/><circle cx="698.5" cy="507.1" r="2.45" fill="#0A1E46"/><circle cx="683.8" cy="521.0" r="2.45" fill="#0A1E46"/><circle cx="733.5" cy="494.5" r="2.45" fill="#0A1E46"/><circle cx="753.7" cy="492.9" r="2.45" fill="#0A1E46"/><circle cx="761.5" cy="490.6" r="2.45" fill="#0A1E46"/><circle cx="763.5" cy="507.4" r="2.45" fill="#0A1E46"/><circle cx="754.5" cy="510.0" r="2.45" fill="#0A1E46"/><circle cx="776.0" cy="511.6" r="2.45" fill="#0A1E46"/><circle cx="762.0" cy="524.1" r="2.45" fill="#0A1E46"/><circle cx="780.7" cy="527.9" r="2.45" fill="#0A1E46"/><circle cx="785.3" cy="524.5" r="2.45" fill="#0A1E46"/><circle cx="717.9" cy="537.6" r="2.45" fill="#0A1E46"/><circle cx="745.5" cy="568.4" r="2.45" fill="#0A1E46"/><circle cx="814.9" cy="495.3" r="2.45" fill="#0A1E46"/><circle cx="818.0" cy="504.9" r="2.45" fill="#0A1E46"/><circle cx="798.4" cy="516.3" r="2.45" fill="#0A1E46"/><circle cx="816.7" cy="515.8" r="2.45" fill="#0A1E46"/><circle cx="819.5" cy="545.9" r="2.45" fill="#0A1E46"/><circle cx="817.1" cy="559.9" r="2.45" fill="#0A1E46"/><circle cx="829.5" cy="559.9" r="2.45" fill="#0A1E46"/><circle cx="799.6" cy="563.0" r="2.45" fill="#0A1E46"/>

<text x="109.15" y="692.50" font-family="Liberation Serif" font-size="36.00" font-weight="normal" font-style="normal" fill="#000" textLength="379.24" lengthAdjust="spacingAndGlyphs">Tangential velocity (km s</text>
<rect x="490.40" y="672.50" width="15.90" height="1.40" fill="#000"/><text x="508.96" y="680.40" font-family="Liberation Serif" font-size="25.00" font-weight="normal" font-style="normal" fill="#000" textLength="12.43" lengthAdjust="spacingAndGlyphs">1</text><text x="524.20" y="692.50" font-family="Liberation Serif" font-size="36.00" font-weight="normal" font-style="normal" fill="#000" textLength="11.15" lengthAdjust="spacingAndGlyphs">)</text>
<text x="562.35" y="692.50" font-family="Liberation Serif" font-size="36.00" font-weight="normal" font-style="normal" fill="#000" textLength="379.24" lengthAdjust="spacingAndGlyphs">Tangential velocity (km s</text>
<rect x="943.60" y="672.50" width="15.90" height="1.40" fill="#000"/><text x="962.16" y="680.40" font-family="Liberation Serif" font-size="25.00" font-weight="normal" font-style="normal" fill="#000" textLength="12.43" lengthAdjust="spacingAndGlyphs">1</text><text x="977.40" y="692.50" font-family="Liberation Serif" font-size="36.00" font-weight="normal" font-style="normal" fill="#000" textLength="11.15" lengthAdjust="spacingAndGlyphs">)</text>
<text transform="translate(29.30,553.00) rotate(-90)" x="-1.11" y="0" font-family="Liberation Serif" font-size="36.00" font-weight="normal" font-style="normal" fill="#000" textLength="318.69" lengthAdjust="spacingAndGlyphs">Radial velocity (km s</text>
<rect x="9.30" y="217.30" width="1.4" height="15.90" fill="#000"/>
<text transform="translate(17.20,212.40) rotate(-90)" x="-2.24" y="0" font-family="Liberation Serif" font-size="25.00" font-weight="normal" font-style="normal" fill="#000" textLength="12.43" lengthAdjust="spacingAndGlyphs">1</text>
<text transform="translate(29.30,198.40) rotate(-90)" x="-1.00" y="0" font-family="Liberation Serif" font-size="36.00" font-weight="normal" font-style="normal" fill="#000" textLength="11.15" lengthAdjust="spacingAndGlyphs">)</text>
<line x1="1197.50" y1="103.5" x2="1197.50" y2="113.0" stroke="#333" stroke-width="1"/>
<line x1="1197.50" y1="602.2" x2="1197.50" y2="592.7" stroke="#333" stroke-width="1"/>
<line x1="1235.50" y1="103.5" x2="1235.50" y2="113.0" stroke="#333" stroke-width="1"/>
<line x1="1235.50" y1="602.2" x2="1235.50" y2="592.7" stroke="#333" stroke-width="1"/>
<line x1="1272.50" y1="103.5" x2="1272.50" y2="113.0" stroke="#333" stroke-width="1"/>
<line x1="1272.50" y1="602.2" x2="1272.50" y2="592.7" stroke="#333" stroke-width="1"/>
<line x1="1310.50" y1="103.5" x2="1310.50" y2="113.0" stroke="#333" stroke-width="1"/>
<line x1="1310.50" y1="602.2" x2="1310.50" y2="592.7" stroke="#333" stroke-width="1"/>
<line x1="1347.50" y1="103.5" x2="1347.50" y2="113.0" stroke="#333" stroke-width="1"/>
<line x1="1347.50" y1="602.2" x2="1347.50" y2="592.7" stroke="#333" stroke-width="1"/>
<line x1="1385.50" y1="103.5" x2="1385.50" y2="113.0" stroke="#333" stroke-width="1"/>
<line x1="1385.50" y1="602.2" x2="1385.50" y2="592.7" stroke="#333" stroke-width="1"/>
<line x1="1423.50" y1="103.5" x2="1423.50" y2="113.0" stroke="#333" stroke-width="1"/>
<line x1="1423.50" y1="602.2" x2="1423.50" y2="592.7" stroke="#333" stroke-width="1"/>
<line x1="1460.50" y1="103.5" x2="1460.50" y2="113.0" stroke="#333" stroke-width="1"/>
<line x1="1460.50" y1="602.2" x2="1460.50" y2="592.7" stroke="#333" stroke-width="1"/>
<line x1="1159.7" y1="546.79" x2="1169.2" y2="546.79" stroke="#333" stroke-width="1"/>
<line x1="1498.4" y1="546.79" x2="1488.9" y2="546.79" stroke="#333" stroke-width="1"/>
<line x1="1159.7" y1="491.38" x2="1169.2" y2="491.38" stroke="#333" stroke-width="1"/>
<line x1="1498.4" y1="491.38" x2="1488.9" y2="491.38" stroke="#333" stroke-width="1"/>
<line x1="1159.7" y1="435.97" x2="1169.2" y2="435.97" stroke="#333" stroke-width="1"/>
<line x1="1498.4" y1="435.97" x2="1488.9" y2="435.97" stroke="#333" stroke-width="1"/>
<line x1="1159.7" y1="380.56" x2="1169.2" y2="380.56" stroke="#333" stroke-width="1"/>
<line x1="1498.4" y1="380.56" x2="1488.9" y2="380.56" stroke="#333" stroke-width="1"/>
<line x1="1159.7" y1="325.14" x2="1169.2" y2="325.14" stroke="#333" stroke-width="1"/>
<line x1="1498.4" y1="325.14" x2="1488.9" y2="325.14" stroke="#333" stroke-width="1"/>
<line x1="1159.7" y1="269.73" x2="1169.2" y2="269.73" stroke="#333" stroke-width="1"/>
<line x1="1498.4" y1="269.73" x2="1488.9" y2="269.73" stroke="#333" stroke-width="1"/>
<line x1="1159.7" y1="214.32" x2="1169.2" y2="214.32" stroke="#333" stroke-width="1"/>
<line x1="1498.4" y1="214.32" x2="1488.9" y2="214.32" stroke="#333" stroke-width="1"/>
<line x1="1159.7" y1="158.91" x2="1169.2" y2="158.91" stroke="#333" stroke-width="1"/>
<line x1="1498.4" y1="158.91" x2="1488.9" y2="158.91" stroke="#333" stroke-width="1"/>
<rect x="1162.10" y="120.62" width="33.00" height="22.16" fill="#425a78" stroke="#0e2a52" stroke-width="1"/>
<rect x="1162.10" y="142.79" width="33.00" height="458.91" fill="#f05a7a" stroke="#ee2a55" stroke-width="1"/>
<rect x="1162.60" y="143.29" width="32.00" height="457.91" fill="#f05a7a"/>
<rect x="1199.90" y="234.22" width="33.20" height="5.54" fill="#425a78" stroke="#0e2a52" stroke-width="1"/>
<rect x="1199.90" y="239.76" width="33.20" height="361.94" fill="#f05a7a" stroke="#ee2a55" stroke-width="1"/>
<rect x="1200.40" y="240.26" width="32.20" height="360.94" fill="#f05a7a"/>
<rect x="1237.90" y="115.08" width="32.20" height="30.48" fill="#425a78" stroke="#0e2a52" stroke-width="1"/>
<rect x="1237.90" y="145.56" width="32.20" height="456.14" fill="#f05a7a" stroke="#ee2a55" stroke-width="1"/>
<rect x="1238.40" y="146.06" width="31.20" height="455.14" fill="#f05a7a"/>
<rect x="1274.90" y="209.28" width="33.20" height="49.87" fill="#425a78" stroke="#0e2a52" stroke-width="1"/>
<rect x="1274.90" y="259.15" width="33.20" height="342.55" fill="#f05a7a" stroke="#ee2a55" stroke-width="1"/>
<rect x="1275.40" y="259.65" width="32.20" height="341.55" fill="#f05a7a"/>
<rect x="1312.90" y="303.48" width="32.20" height="66.49" fill="#425a78" stroke="#0e2a52" stroke-width="1"/>
<rect x="1312.90" y="369.97" width="32.20" height="231.73" fill="#f05a7a" stroke="#ee2a55" stroke-width="1"/>
<rect x="1313.40" y="370.47" width="31.20" height="230.73" fill="#f05a7a"/>
<rect x="1349.90" y="345.04" width="33.20" height="60.95" fill="#425a78" stroke="#0e2a52" stroke-width="1"/>
<rect x="1349.90" y="405.99" width="33.20" height="195.71" fill="#f05a7a" stroke="#ee2a55" stroke-width="1"/>
<rect x="1350.40" y="406.49" width="32.20" height="194.71" fill="#f05a7a"/>
<rect x="1387.90" y="497.42" width="33.20" height="24.94" fill="#425a78" stroke="#0e2a52" stroke-width="1"/>
<rect x="1387.90" y="522.35" width="33.20" height="79.35" fill="#f05a7a" stroke="#ee2a55" stroke-width="1"/>
<rect x="1388.40" y="522.85" width="32.20" height="78.35" fill="#f05a7a"/>
<rect x="1425.90" y="381.06" width="32.20" height="47.10" fill="#425a78" stroke="#0e2a52" stroke-width="1"/>
<rect x="1425.90" y="428.16" width="32.20" height="173.55" fill="#f05a7a" stroke="#ee2a55" stroke-width="1"/>
<rect x="1426.40" y="428.66" width="31.20" height="172.55" fill="#f05a7a"/>
<rect x="1462.90" y="522.35" width="33.10" height="22.16" fill="#425a78" stroke="#0e2a52" stroke-width="1"/>
<rect x="1462.90" y="544.52" width="33.10" height="57.18" fill="#f05a7a" stroke="#ee2a55" stroke-width="1"/>
<rect x="1463.40" y="545.02" width="32.10" height="56.18" fill="#f05a7a"/>
<path d="M1159.70 103.50H1498.40" stroke="#333" stroke-width="1"/>
<path d="M1159.70 602.20H1498.40" stroke="#555" stroke-width="1"/>
<path d="M1159.70 103.50V602.20" stroke="#444" stroke-width="1"/>
<path d="M1498.40 103.50V602.20" stroke="#444" stroke-width="1"/>
<text transform="translate(1163.20,628.30) rotate(-45)" x="-37.20" y="0" font-family="Liberation Serif" font-size="30" fill="#000">2.4</text>
<text transform="translate(1200.83,628.30) rotate(-45)" x="-36.30" y="0" font-family="Liberation Serif" font-size="30" fill="#000">2.8</text>
<text transform="translate(1238.47,628.30) rotate(-45)" x="-36.00" y="0" font-family="Liberation Serif" font-size="30" fill="#000">3.2</text>
<text transform="translate(1276.10,628.30) rotate(-45)" x="-36.60" y="0" font-family="Liberation Serif" font-size="30" fill="#000">3.6</text>
<text transform="translate(1313.73,628.30) rotate(-45)" x="-14.70" y="0" font-family="Liberation Serif" font-size="30" fill="#000">4</text>
<text transform="translate(1351.37,628.30) rotate(-45)" x="-37.20" y="0" font-family="Liberation Serif" font-size="30" fill="#000">4.4</text>
<text transform="translate(1389.00,628.30) rotate(-45)" x="-36.30" y="0" font-family="Liberation Serif" font-size="30" fill="#000">4.8</text>
<text transform="translate(1426.63,628.30) rotate(-45)" x="-36.00" y="0" font-family="Liberation Serif" font-size="30" fill="#000">5.2</text>
<text transform="translate(1464.27,628.30) rotate(-45)" x="-36.60" y="0" font-family="Liberation Serif" font-size="30" fill="#000">5.6</text>
<text transform="translate(1501.90,628.30) rotate(-45)" x="-14.10" y="0" font-family="Liberation Serif" font-size="30" fill="#000">6</text>
<text x="1125.80" y="610.40" font-family="Liberation Serif" font-size="30.00" fill="#000">0</text>
<text x="1110.80" y="554.99" font-family="Liberation Serif" font-size="30.00" fill="#000">20</text>
<text x="1110.80" y="499.58" font-family="Liberation Serif" font-size="30.00" fill="#000">40</text>
<text x="1110.80" y="444.17" font-family="Liberation Serif" font-size="30.00" fill="#000">60</text>
<text x="1110.80" y="388.76" font-family="Liberation Serif" font-size="30.00" fill="#000">80</text>
<text x="1095.80" y="333.34" font-family="Liberation Serif" font-size="30.00" fill="#000">100</text>
<text x="1095.80" y="277.93" font-family="Liberation Serif" font-size="30.00" fill="#000">120</text>
<text x="1095.80" y="222.52" font-family="Liberation Serif" font-size="30.00" fill="#000">140</text>
<text x="1095.80" y="167.11" font-family="Liberation Serif" font-size="30.00" fill="#000">160</text>
<text x="1095.80" y="111.70" font-family="Liberation Serif" font-size="30.00" fill="#000">180</text>
<text x="1274.91" y="135.30" font-family="Liberation Serif" font-size="25.00" font-weight="normal" font-style="normal" fill="#000" textLength="75.65" lengthAdjust="spacingAndGlyphs">HS-QS</text>
<text x="1317.22" y="168.40" font-family="Liberation Serif" font-size="25.00" font-weight="normal" font-style="normal" fill="#000" textLength="33.30" lengthAdjust="spacingAndGlyphs">HS</text>
<rect x="1369.9" y="121.5" width="88.6" height="15.7" fill="#425a78" stroke="#0e2a52" stroke-width="1"/>
<rect x="1369.9" y="154.5" width="88.6" height="15.7" fill="#f05a7a" stroke="#ee2a55" stroke-width="1"/>
<text transform="translate(1055.80,408.80) rotate(-90)" x="-0.80" y="0" font-family="Liberation Serif" font-size="25.70" font-weight="normal" font-style="normal" fill="#000" textLength="112.82" lengthAdjust="spacingAndGlyphs">Frequency</text>
<text x="1260.06" y="700.00" font-family="Liberation Serif" font-size="24.50" font-weight="normal" font-style="italic" fill="#000" textLength="10.69" lengthAdjust="spacingAndGlyphs">v</text>
<text x="1272.23" y="703.90" font-family="Liberation Serif" font-size="17.50" font-weight="normal" font-style="normal" fill="#000" textLength="13.63" lengthAdjust="spacingAndGlyphs">L</text>
<text x="1296.40" y="700.00" font-family="Liberation Serif" font-size="24.50" font-weight="normal" font-style="normal" fill="#000" textLength="61.93" lengthAdjust="spacingAndGlyphs">(km s</text>
<rect x="1360.80" y="686.40" width="12.60" height="1.20" fill="#000"/>
<text x="1376.08" y="691.80" font-family="Liberation Serif" font-size="17.50" font-weight="normal" font-style="normal" fill="#000" textLength="9.57" lengthAdjust="spacingAndGlyphs">1</text>
<text x="1389.13" y="700.00" font-family="Liberation Serif" font-size="24.50" font-weight="normal" font-style="normal" fill="#000" textLength="7.43" lengthAdjust="spacingAndGlyphs">)</text>
</svg>
</body></html>
